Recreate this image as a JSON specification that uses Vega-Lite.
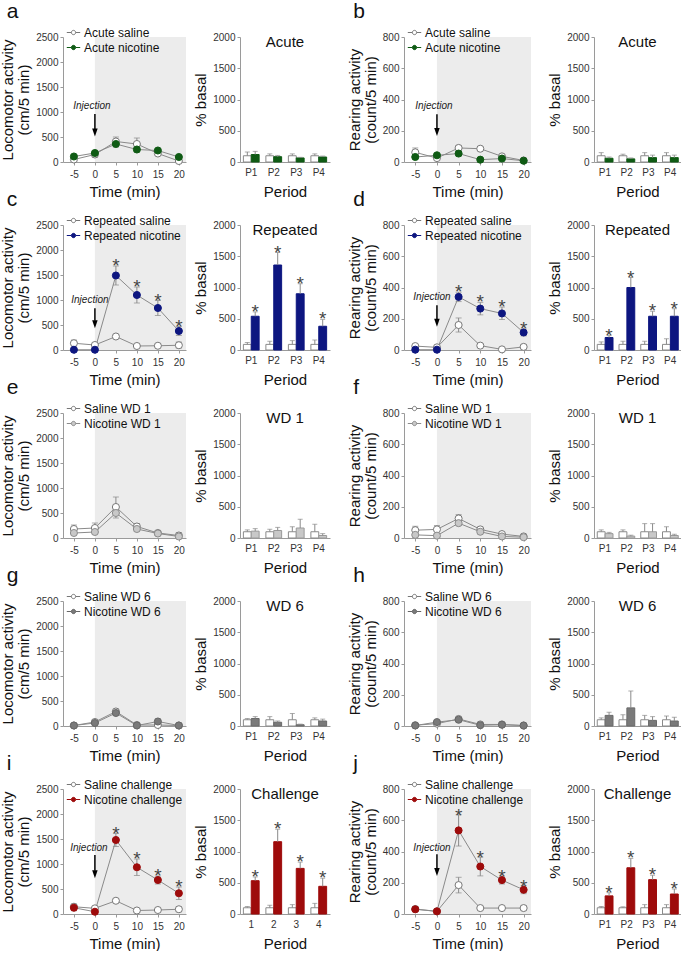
{
"$schema": "https://vega.github.io/schema/vega-lite/v6.json",
"padding": {"left": 0, "top": 1, "right": 0, "bottom": 0},
"config": {
 "font": "Liberation Sans",
 "view": {"stroke": null},
 "axis": {"grid": false, "labelOverlap": false, "domainColor": "#9a9a9a", "tickColor": "#9a9a9a", "tickSize": 3, "labelFontSize": 10, "labelColor": "#333333", "titleFontSize": 15, "titleFontWeight": "normal", "titleColor": "#111111", "labelFont": "Liberation Sans", "titleFont": "Liberation Sans", "zindex": 1},
 "legend": {"labelFontSize": 12, "labelFont": "Liberation Sans", "labelColor": "#111111", "symbolSize": 180, "symbolStrokeWidth": 1, "symbolType": "M-1,0H-0.32M0.32,0H1M-0.32,0A0.32,0.32 0 1,1 0.32,0A0.32,0.32 0 1,1 -0.32,0Z", "rowPadding": 1, "labelOffset": 3, "padding": 0},
 "title": {"font": "Liberation Sans", "fontWeight": "normal", "color": "#111111"}
},
"datasets": {
"L": [
{"p":"a","g":"Acute saline","t":-5,"v":50,"lo":20,"hi":90,"s":""},
{"p":"a","g":"Acute saline","t":0,"v":150,"lo":90,"hi":210,"s":""},
{"p":"a","g":"Acute saline","t":5,"v":410,"lo":330,"hi":500,"s":""},
{"p":"a","g":"Acute saline","t":10,"v":360,"lo":250,"hi":480,"s":""},
{"p":"a","g":"Acute saline","t":15,"v":170,"lo":140,"hi":200,"s":""},
{"p":"a","g":"Acute saline","t":20,"v":20,"lo":0,"hi":40,"s":""},
{"p":"a","g":"Acute nicotine","t":-5,"v":110,"lo":80,"hi":140,"s":""},
{"p":"a","g":"Acute nicotine","t":0,"v":180,"lo":140,"hi":220,"s":""},
{"p":"a","g":"Acute nicotine","t":5,"v":360,"lo":300,"hi":420,"s":""},
{"p":"a","g":"Acute nicotine","t":10,"v":250,"lo":200,"hi":300,"s":""},
{"p":"a","g":"Acute nicotine","t":15,"v":230,"lo":200,"hi":260,"s":""},
{"p":"a","g":"Acute nicotine","t":20,"v":100,"lo":80,"hi":120,"s":""},
{"p":"b","g":"Acute saline","t":-5,"v":62,"lo":35,"hi":90,"s":""},
{"p":"b","g":"Acute saline","t":0,"v":25,"lo":15,"hi":35,"s":""},
{"p":"b","g":"Acute saline","t":5,"v":90,"lo":75,"hi":105,"s":""},
{"p":"b","g":"Acute saline","t":10,"v":85,"lo":75,"hi":95,"s":""},
{"p":"b","g":"Acute saline","t":15,"v":36,"lo":28,"hi":44,"s":""},
{"p":"b","g":"Acute saline","t":20,"v":10,"lo":2,"hi":18,"s":""},
{"p":"b","g":"Acute nicotine","t":-5,"v":32,"lo":22,"hi":42,"s":""},
{"p":"b","g":"Acute nicotine","t":0,"v":43,"lo":33,"hi":53,"s":""},
{"p":"b","g":"Acute nicotine","t":5,"v":54,"lo":40,"hi":68,"s":""},
{"p":"b","g":"Acute nicotine","t":10,"v":15,"lo":8,"hi":22,"s":""},
{"p":"b","g":"Acute nicotine","t":15,"v":22,"lo":15,"hi":29,"s":""},
{"p":"b","g":"Acute nicotine","t":20,"v":8,"lo":3,"hi":13,"s":""},
{"p":"c","g":"Repeated saline","t":-5,"v":135,"lo":80,"hi":200,"s":""},
{"p":"c","g":"Repeated saline","t":0,"v":100,"lo":60,"hi":140,"s":""},
{"p":"c","g":"Repeated saline","t":5,"v":270,"lo":240,"hi":300,"s":""},
{"p":"c","g":"Repeated saline","t":10,"v":80,"lo":60,"hi":100,"s":""},
{"p":"c","g":"Repeated saline","t":15,"v":85,"lo":65,"hi":105,"s":""},
{"p":"c","g":"Repeated saline","t":20,"v":95,"lo":40,"hi":160,"s":""},
{"p":"c","g":"Repeated nicotine","t":-5,"v":5,"lo":0,"hi":10,"s":""},
{"p":"c","g":"Repeated nicotine","t":0,"v":5,"lo":0,"hi":10,"s":""},
{"p":"c","g":"Repeated nicotine","t":5,"v":1490,"lo":1300,"hi":1680,"s":"*"},
{"p":"c","g":"Repeated nicotine","t":10,"v":1100,"lo":940,"hi":1260,"s":"*"},
{"p":"c","g":"Repeated nicotine","t":15,"v":840,"lo":690,"hi":990,"s":"*"},
{"p":"c","g":"Repeated nicotine","t":20,"v":380,"lo":290,"hi":470,"s":"*"},
{"p":"d","g":"Repeated saline","t":-5,"v":25,"lo":15,"hi":35,"s":""},
{"p":"d","g":"Repeated saline","t":0,"v":17,"lo":10,"hi":24,"s":""},
{"p":"d","g":"Repeated saline","t":5,"v":160,"lo":115,"hi":205,"s":""},
{"p":"d","g":"Repeated saline","t":10,"v":28,"lo":20,"hi":36,"s":""},
{"p":"d","g":"Repeated saline","t":15,"v":4,"lo":0,"hi":10,"s":""},
{"p":"d","g":"Repeated saline","t":20,"v":20,"lo":5,"hi":35,"s":""},
{"p":"d","g":"Repeated nicotine","t":-5,"v":2,"lo":0,"hi":5,"s":""},
{"p":"d","g":"Repeated nicotine","t":0,"v":2,"lo":0,"hi":5,"s":""},
{"p":"d","g":"Repeated nicotine","t":5,"v":340,"lo":310,"hi":370,"s":"*"},
{"p":"d","g":"Repeated nicotine","t":10,"v":265,"lo":225,"hi":305,"s":"*"},
{"p":"d","g":"Repeated nicotine","t":15,"v":234,"lo":195,"hi":275,"s":"*"},
{"p":"d","g":"Repeated nicotine","t":20,"v":112,"lo":90,"hi":135,"s":"*"},
{"p":"e","g":"Saline WD 1","t":-5,"v":180,"lo":100,"hi":260,"s":""},
{"p":"e","g":"Saline WD 1","t":0,"v":200,"lo":120,"hi":300,"s":""},
{"p":"e","g":"Saline WD 1","t":5,"v":620,"lo":500,"hi":820,"s":""},
{"p":"e","g":"Saline WD 1","t":10,"v":230,"lo":170,"hi":290,"s":""},
{"p":"e","g":"Saline WD 1","t":15,"v":100,"lo":60,"hi":140,"s":""},
{"p":"e","g":"Saline WD 1","t":20,"v":50,"lo":10,"hi":110,"s":""},
{"p":"e","g":"Nicotine WD 1","t":-5,"v":100,"lo":60,"hi":140,"s":""},
{"p":"e","g":"Nicotine WD 1","t":0,"v":120,"lo":80,"hi":160,"s":""},
{"p":"e","g":"Nicotine WD 1","t":5,"v":500,"lo":400,"hi":600,"s":""},
{"p":"e","g":"Nicotine WD 1","t":10,"v":180,"lo":130,"hi":230,"s":""},
{"p":"e","g":"Nicotine WD 1","t":15,"v":90,"lo":60,"hi":120,"s":""},
{"p":"e","g":"Nicotine WD 1","t":20,"v":30,"lo":10,"hi":60,"s":""},
{"p":"f","g":"Saline WD 1","t":-5,"v":50,"lo":25,"hi":75,"s":""},
{"p":"f","g":"Saline WD 1","t":0,"v":55,"lo":30,"hi":80,"s":""},
{"p":"f","g":"Saline WD 1","t":5,"v":125,"lo":100,"hi":150,"s":""},
{"p":"f","g":"Saline WD 1","t":10,"v":55,"lo":40,"hi":70,"s":""},
{"p":"f","g":"Saline WD 1","t":15,"v":25,"lo":15,"hi":35,"s":""},
{"p":"f","g":"Saline WD 1","t":20,"v":10,"lo":3,"hi":17,"s":""},
{"p":"f","g":"Nicotine WD 1","t":-5,"v":20,"lo":8,"hi":32,"s":""},
{"p":"f","g":"Nicotine WD 1","t":0,"v":15,"lo":5,"hi":25,"s":""},
{"p":"f","g":"Nicotine WD 1","t":5,"v":95,"lo":80,"hi":110,"s":""},
{"p":"f","g":"Nicotine WD 1","t":10,"v":40,"lo":28,"hi":52,"s":""},
{"p":"f","g":"Nicotine WD 1","t":15,"v":10,"lo":4,"hi":16,"s":""},
{"p":"f","g":"Nicotine WD 1","t":20,"v":5,"lo":0,"hi":10,"s":""},
{"p":"g","g":"Saline WD 6","t":-5,"v":10,"lo":0,"hi":30,"s":""},
{"p":"g","g":"Saline WD 6","t":0,"v":80,"lo":40,"hi":120,"s":""},
{"p":"g","g":"Saline WD 6","t":5,"v":290,"lo":240,"hi":340,"s":""},
{"p":"g","g":"Saline WD 6","t":10,"v":20,"lo":5,"hi":40,"s":""},
{"p":"g","g":"Saline WD 6","t":15,"v":20,"lo":5,"hi":40,"s":""},
{"p":"g","g":"Saline WD 6","t":20,"v":10,"lo":0,"hi":25,"s":""},
{"p":"g","g":"Nicotine WD 6","t":-5,"v":10,"lo":0,"hi":25,"s":""},
{"p":"g","g":"Nicotine WD 6","t":0,"v":60,"lo":30,"hi":90,"s":""},
{"p":"g","g":"Nicotine WD 6","t":5,"v":260,"lo":220,"hi":300,"s":""},
{"p":"g","g":"Nicotine WD 6","t":10,"v":10,"lo":0,"hi":25,"s":""},
{"p":"g","g":"Nicotine WD 6","t":15,"v":90,"lo":40,"hi":140,"s":""},
{"p":"g","g":"Nicotine WD 6","t":20,"v":10,"lo":0,"hi":25,"s":""},
{"p":"h","g":"Saline WD 6","t":-5,"v":5,"lo":0,"hi":10,"s":""},
{"p":"h","g":"Saline WD 6","t":0,"v":15,"lo":5,"hi":25,"s":""},
{"p":"h","g":"Saline WD 6","t":5,"v":45,"lo":35,"hi":55,"s":""},
{"p":"h","g":"Saline WD 6","t":10,"v":10,"lo":4,"hi":16,"s":""},
{"p":"h","g":"Saline WD 6","t":15,"v":10,"lo":4,"hi":16,"s":""},
{"p":"h","g":"Saline WD 6","t":20,"v":3,"lo":0,"hi":8,"s":""},
{"p":"h","g":"Nicotine WD 6","t":-5,"v":3,"lo":0,"hi":8,"s":""},
{"p":"h","g":"Nicotine WD 6","t":0,"v":25,"lo":15,"hi":35,"s":""},
{"p":"h","g":"Nicotine WD 6","t":5,"v":40,"lo":30,"hi":50,"s":""},
{"p":"h","g":"Nicotine WD 6","t":10,"v":5,"lo":0,"hi":10,"s":""},
{"p":"h","g":"Nicotine WD 6","t":15,"v":8,"lo":2,"hi":14,"s":""},
{"p":"h","g":"Nicotine WD 6","t":20,"v":3,"lo":0,"hi":8,"s":""},
{"p":"i","g":"Saline challenge","t":-5,"v":145,"lo":90,"hi":200,"s":""},
{"p":"i","g":"Saline challenge","t":0,"v":113,"lo":75,"hi":150,"s":""},
{"p":"i","g":"Saline challenge","t":5,"v":265,"lo":235,"hi":295,"s":""},
{"p":"i","g":"Saline challenge","t":10,"v":70,"lo":55,"hi":85,"s":""},
{"p":"i","g":"Saline challenge","t":15,"v":80,"lo":65,"hi":95,"s":""},
{"p":"i","g":"Saline challenge","t":20,"v":95,"lo":45,"hi":145,"s":""},
{"p":"i","g":"Nicotine challenge","t":-5,"v":125,"lo":65,"hi":185,"s":""},
{"p":"i","g":"Nicotine challenge","t":0,"v":45,"lo":30,"hi":60,"s":""},
{"p":"i","g":"Nicotine challenge","t":5,"v":1480,"lo":1350,"hi":1610,"s":"*"},
{"p":"i","g":"Nicotine challenge","t":10,"v":935,"lo":770,"hi":1100,"s":"*"},
{"p":"i","g":"Nicotine challenge","t":15,"v":680,"lo":600,"hi":760,"s":"*"},
{"p":"i","g":"Nicotine challenge","t":20,"v":415,"lo":290,"hi":540,"s":"*"},
{"p":"j","g":"Saline challenge","t":-5,"v":32,"lo":17,"hi":47,"s":""},
{"p":"j","g":"Saline challenge","t":0,"v":17,"lo":10,"hi":24,"s":""},
{"p":"j","g":"Saline challenge","t":5,"v":185,"lo":135,"hi":235,"s":""},
{"p":"j","g":"Saline challenge","t":10,"v":38,"lo":30,"hi":46,"s":""},
{"p":"j","g":"Saline challenge","t":15,"v":38,"lo":26,"hi":50,"s":""},
{"p":"j","g":"Saline challenge","t":20,"v":38,"lo":23,"hi":53,"s":""},
{"p":"j","g":"Nicotine challenge","t":-5,"v":30,"lo":15,"hi":45,"s":""},
{"p":"j","g":"Nicotine challenge","t":0,"v":17,"lo":10,"hi":24,"s":""},
{"p":"j","g":"Nicotine challenge","t":5,"v":535,"lo":435,"hi":635,"s":"*"},
{"p":"j","g":"Nicotine challenge","t":10,"v":304,"lo":244,"hi":364,"s":"*"},
{"p":"j","g":"Nicotine challenge","t":15,"v":217,"lo":192,"hi":242,"s":"*"},
{"p":"j","g":"Nicotine challenge","t":20,"v":155,"lo":130,"hi":180,"s":"*"}
],
"B": [
{"p":"a","per":"P1","g":"s","v":100,"hi":160,"s":""},
{"p":"a","per":"P2","g":"s","v":100,"hi":130,"s":""},
{"p":"a","per":"P3","g":"s","v":100,"hi":130,"s":""},
{"p":"a","per":"P4","g":"s","v":100,"hi":130,"s":""},
{"p":"a","per":"P1","g":"n","v":120,"hi":170,"s":""},
{"p":"a","per":"P2","g":"n","v":85,"hi":105,"s":""},
{"p":"a","per":"P3","g":"n","v":65,"hi":75,"s":""},
{"p":"a","per":"P4","g":"n","v":80,"hi":95,"s":""},
{"p":"b","per":"P1","g":"s","v":100,"hi":150,"s":""},
{"p":"b","per":"P2","g":"s","v":100,"hi":125,"s":""},
{"p":"b","per":"P3","g":"s","v":100,"hi":150,"s":""},
{"p":"b","per":"P4","g":"s","v":100,"hi":150,"s":""},
{"p":"b","per":"P1","g":"n","v":60,"hi":80,"s":""},
{"p":"b","per":"P2","g":"n","v":50,"hi":65,"s":""},
{"p":"b","per":"P3","g":"n","v":70,"hi":110,"s":""},
{"p":"b","per":"P4","g":"n","v":70,"hi":110,"s":""},
{"p":"c","per":"P1","g":"s","v":90,"hi":120,"s":""},
{"p":"c","per":"P2","g":"s","v":90,"hi":140,"s":""},
{"p":"c","per":"P3","g":"s","v":90,"hi":150,"s":""},
{"p":"c","per":"P4","g":"s","v":90,"hi":160,"s":""},
{"p":"c","per":"P1","g":"n","v":540,"hi":610,"s":"*"},
{"p":"c","per":"P2","g":"n","v":1360,"hi":1560,"s":"*"},
{"p":"c","per":"P3","g":"n","v":900,"hi":1060,"s":"*"},
{"p":"c","per":"P4","g":"n","v":380,"hi":490,"s":"*"},
{"p":"d","per":"P1","g":"s","v":90,"hi":130,"s":""},
{"p":"d","per":"P2","g":"s","v":90,"hi":140,"s":""},
{"p":"d","per":"P3","g":"s","v":90,"hi":140,"s":""},
{"p":"d","per":"P4","g":"s","v":90,"hi":180,"s":""},
{"p":"d","per":"P1","g":"n","v":200,"hi":230,"s":"*"},
{"p":"d","per":"P2","g":"n","v":1000,"hi":1160,"s":"*"},
{"p":"d","per":"P3","g":"n","v":540,"hi":620,"s":"*"},
{"p":"d","per":"P4","g":"n","v":540,"hi":660,"s":"*"},
{"p":"e","per":"P1","g":"s","v":100,"hi":130,"s":""},
{"p":"e","per":"P2","g":"s","v":100,"hi":140,"s":""},
{"p":"e","per":"P3","g":"s","v":100,"hi":180,"s":""},
{"p":"e","per":"P4","g":"s","v":100,"hi":220,"s":""},
{"p":"e","per":"P1","g":"n","v":110,"hi":150,"s":""},
{"p":"e","per":"P2","g":"n","v":120,"hi":170,"s":""},
{"p":"e","per":"P3","g":"n","v":160,"hi":300,"s":""},
{"p":"e","per":"P4","g":"n","v":40,"hi":70,"s":""},
{"p":"f","per":"P1","g":"s","v":100,"hi":130,"s":""},
{"p":"f","per":"P2","g":"s","v":100,"hi":130,"s":""},
{"p":"f","per":"P3","g":"s","v":100,"hi":230,"s":""},
{"p":"f","per":"P4","g":"s","v":100,"hi":180,"s":""},
{"p":"f","per":"P1","g":"n","v":70,"hi":90,"s":""},
{"p":"f","per":"P2","g":"n","v":30,"hi":45,"s":""},
{"p":"f","per":"P3","g":"n","v":100,"hi":230,"s":""},
{"p":"f","per":"P4","g":"n","v":40,"hi":60,"s":""},
{"p":"g","per":"P1","g":"s","v":100,"hi":120,"s":""},
{"p":"g","per":"P2","g":"s","v":100,"hi":150,"s":""},
{"p":"g","per":"P3","g":"s","v":100,"hi":200,"s":""},
{"p":"g","per":"P4","g":"s","v":100,"hi":130,"s":""},
{"p":"g","per":"P1","g":"n","v":120,"hi":150,"s":""},
{"p":"g","per":"P2","g":"n","v":60,"hi":80,"s":""},
{"p":"g","per":"P3","g":"n","v":20,"hi":30,"s":""},
{"p":"g","per":"P4","g":"n","v":80,"hi":110,"s":""},
{"p":"h","per":"P1","g":"s","v":100,"hi":130,"s":""},
{"p":"h","per":"P2","g":"s","v":100,"hi":180,"s":""},
{"p":"h","per":"P3","g":"s","v":100,"hi":170,"s":""},
{"p":"h","per":"P4","g":"s","v":100,"hi":160,"s":""},
{"p":"h","per":"P1","g":"n","v":170,"hi":220,"s":""},
{"p":"h","per":"P2","g":"n","v":290,"hi":560,"s":""},
{"p":"h","per":"P3","g":"n","v":90,"hi":150,"s":""},
{"p":"h","per":"P4","g":"n","v":80,"hi":140,"s":""},
{"p":"i","per":"1","g":"s","v":100,"hi":120,"s":""},
{"p":"i","per":"2","g":"s","v":100,"hi":140,"s":""},
{"p":"i","per":"3","g":"s","v":100,"hi":150,"s":""},
{"p":"i","per":"4","g":"s","v":100,"hi":170,"s":""},
{"p":"i","per":"1","g":"n","v":533,"hi":593,"s":"*"},
{"p":"i","per":"2","g":"n","v":1157,"hi":1357,"s":"*"},
{"p":"i","per":"3","g":"n","v":730,"hi":830,"s":"*"},
{"p":"i","per":"4","g":"n","v":443,"hi":573,"s":"*"},
{"p":"j","per":"P1","g":"s","v":100,"hi":120,"s":""},
{"p":"j","per":"P2","g":"s","v":100,"hi":115,"s":""},
{"p":"j","per":"P3","g":"s","v":100,"hi":150,"s":""},
{"p":"j","per":"P4","g":"s","v":100,"hi":150,"s":""},
{"p":"j","per":"P1","g":"n","v":290,"hi":340,"s":"*"},
{"p":"j","per":"P2","g":"n","v":740,"hi":890,"s":"*"},
{"p":"j","per":"P3","g":"n","v":550,"hi":620,"s":"*"},
{"p":"j","per":"P4","g":"n","v":320,"hi":400,"s":"*"}
]
},
"spacing": -10,
"resolve": {"scale": {"fill": "independent", "stroke": "independent"}, "legend": {"fill": "independent", "stroke": "independent"}},
"vconcat": [
{"spacing": 17, "resolve": {"scale": {"fill": "independent", "stroke": "independent"}, "legend": {"fill": "independent", "stroke": "independent"}}, "hconcat": [
 {"spacing": 7, "resolve": {"scale": {"fill": "independent", "stroke": "independent"}, "legend": {"fill": "independent", "stroke": "independent"}}, "hconcat": [
  {"width":123,"height":125,
   "title":{"text":"a","anchor":"start","frame":"bounds","fontSize":21,"baseline":"bottom","offset":-18,"dx":6},
   "layer":[
    {"data":{"values":[{}]},"mark":{"type":"rect","color":"#ececec"},"encoding":{"x":{"datum":0,"type":"quantitative","scale":{"domain":[-7.6,21.7],"nice":false,"zero":false},"title":"Time (min)","axis":{"values":[-5,0,5,10,15,20],"labelExpr":"''+datum.value","titlePadding":5,"labelPadding":4}},"x2":{"datum":21.7},"y":{"datum":0,"type":"quantitative","scale":{"domain":[0,2500],"nice":false},"title":["Locomotor activity","(cm/5 min)"],"axis":{"values":[0,500,1000,1500,2000,2500],"format":"d","titleLineHeight":16,"titlePadding":4,"labelPadding":2}},"y2":{"datum":2500}}},
    {"data":{"values":[{}]},"mark":{"type":"rule","color":"#000000","strokeWidth":1.5},"encoding":{"x":{"datum":0,"type":"quantitative","scale":{"domain":[-7.6,21.7],"nice":false,"zero":false},"title":"Time (min)","axis":{"values":[-5,0,5,10,15,20],"labelExpr":"''+datum.value","titlePadding":5,"labelPadding":4}},"y":{"datum":960,"type":"quantitative","scale":{"domain":[0,2500],"nice":false},"title":["Locomotor activity","(cm/5 min)"],"axis":{"values":[0,500,1000,1500,2000,2500],"format":"d","titleLineHeight":16,"titlePadding":4,"labelPadding":2}},"y2":{"datum":660}}},
    {"data":{"values":[{}]},"mark":{"type":"point","shape":"M0,0L-0.55,-1.6L0.55,-1.6Z","filled":true,"color":"#000000","opacity":1,"size":100},"encoding":{"x":{"datum":0,"type":"quantitative","scale":{"domain":[-7.6,21.7],"nice":false,"zero":false},"title":"Time (min)","axis":{"values":[-5,0,5,10,15,20],"labelExpr":"''+datum.value","titlePadding":5,"labelPadding":4}},"y":{"datum":510,"type":"quantitative","scale":{"domain":[0,2500],"nice":false},"title":["Locomotor activity","(cm/5 min)"],"axis":{"values":[0,500,1000,1500,2000,2500],"format":"d","titleLineHeight":16,"titlePadding":4,"labelPadding":2}}}},
    {"data":{"values":[{}]},"mark":{"type":"text","text":"Injection","fontStyle":"italic","fontSize":10,"color":"#222222","dx":-3},"encoding":{"x":{"datum":0,"type":"quantitative","scale":{"domain":[-7.6,21.7],"nice":false,"zero":false},"title":"Time (min)","axis":{"values":[-5,0,5,10,15,20],"labelExpr":"''+datum.value","titlePadding":5,"labelPadding":4}},"y":{"datum":1120,"type":"quantitative","scale":{"domain":[0,2500],"nice":false},"title":["Locomotor activity","(cm/5 min)"],"axis":{"values":[0,500,1000,1500,2000,2500],"format":"d","titleLineHeight":16,"titlePadding":4,"labelPadding":2}}}},
    {"data":{"name":"L"},"transform":[{"filter":"datum.p=='a'"}],"mark":{"type":"rule","color":"#8a8a8a"},"encoding":{"x":{"field":"t","type":"quantitative","scale":{"domain":[-7.6,21.7],"nice":false,"zero":false},"title":"Time (min)","axis":{"values":[-5,0,5,10,15,20],"labelExpr":"''+datum.value","titlePadding":5,"labelPadding":4}},"y":{"field":"lo","type":"quantitative","scale":{"domain":[0,2500],"nice":false},"title":["Locomotor activity","(cm/5 min)"],"axis":{"values":[0,500,1000,1500,2000,2500],"format":"d","titleLineHeight":16,"titlePadding":4,"labelPadding":2}},"y2":{"field":"hi"}}},
    {"data":{"name":"L"},"transform":[{"filter":"datum.p=='a'"}],"mark":{"type":"tick","orient":"horizontal","size":6,"thickness":1,"color":"#8a8a8a"},"encoding":{"x":{"field":"t","type":"quantitative","scale":{"domain":[-7.6,21.7],"nice":false,"zero":false},"title":"Time (min)","axis":{"values":[-5,0,5,10,15,20],"labelExpr":"''+datum.value","titlePadding":5,"labelPadding":4}},"y":{"field":"hi","type":"quantitative","scale":{"domain":[0,2500],"nice":false},"title":["Locomotor activity","(cm/5 min)"],"axis":{"values":[0,500,1000,1500,2000,2500],"format":"d","titleLineHeight":16,"titlePadding":4,"labelPadding":2}}}},
    {"data":{"name":"L"},"transform":[{"filter":"datum.p=='a'"}],"mark":{"type":"tick","orient":"horizontal","size":6,"thickness":1,"color":"#8a8a8a"},"encoding":{"x":{"field":"t","type":"quantitative","scale":{"domain":[-7.6,21.7],"nice":false,"zero":false},"title":"Time (min)","axis":{"values":[-5,0,5,10,15,20],"labelExpr":"''+datum.value","titlePadding":5,"labelPadding":4}},"y":{"field":"lo","type":"quantitative","scale":{"domain":[0,2500],"nice":false},"title":["Locomotor activity","(cm/5 min)"],"axis":{"values":[0,500,1000,1500,2000,2500],"format":"d","titleLineHeight":16,"titlePadding":4,"labelPadding":2}}}},
    {"data":{"name":"L"},"transform":[{"filter":"datum.p=='a'"}],"mark":{"type":"line","color":"#8a8a8a","strokeWidth":1},"encoding":{"x":{"field":"t","type":"quantitative","scale":{"domain":[-7.6,21.7],"nice":false,"zero":false},"title":"Time (min)","axis":{"values":[-5,0,5,10,15,20],"labelExpr":"''+datum.value","titlePadding":5,"labelPadding":4}},"y":{"field":"v","type":"quantitative","scale":{"domain":[0,2500],"nice":false},"title":["Locomotor activity","(cm/5 min)"],"axis":{"values":[0,500,1000,1500,2000,2500],"format":"d","titleLineHeight":16,"titlePadding":4,"labelPadding":2}},"detail":{"field":"g","type":"nominal"}}},
    {"data":{"name":"L"},"transform":[{"filter":"datum.p=='a'"}],"mark":{"type":"point","filled":true,"opacity":1,"size":50,"strokeWidth":1},"encoding":{"x":{"field":"t","type":"quantitative","scale":{"domain":[-7.6,21.7],"nice":false,"zero":false},"title":"Time (min)","axis":{"values":[-5,0,5,10,15,20],"labelExpr":"''+datum.value","titlePadding":5,"labelPadding":4}},"y":{"field":"v","type":"quantitative","scale":{"domain":[0,2500],"nice":false},"title":["Locomotor activity","(cm/5 min)"],"axis":{"values":[0,500,1000,1500,2000,2500],"format":"d","titleLineHeight":16,"titlePadding":4,"labelPadding":2}},
      "fill":{"field":"g","type":"nominal","scale":{"domain":["Acute saline","Acute nicotine"],"range":["#ffffff","#0f5b14"]},"legend":{"orient":"none","legendX":3,"legendY":-12,"title":null}},
      "stroke":{"field":"g","type":"nominal","scale":{"domain":["Acute saline","Acute nicotine"],"range":["#777777","#0f5b14"]},"legend":{"orient":"none","legendX":3,"legendY":-12,"title":null}}}}
   ]},
  {"width":90,"height":125,
   "title":{"text":"Acute","fontSize":15,"offset":-18,"baseline":"top","anchor":"middle","frame":"group"},
   "data":{"name":"B"},"transform":[{"filter":"datum.p=='a'"}],
   "encoding":{"x":{"field":"per","type":"nominal","scale":{"paddingInner":0.3,"paddingOuter":0.15},"title":"Period","axis":{"labelAngle":0,"ticks":false,"labelPadding":5,"titlePadding":7}},"xOffset":{"field":"g","type":"nominal","scale":{"domain":["s","n"]}}},
   "layer":[
    {"mark":{"type":"bar","strokeWidth":1},"encoding":{"y":{"field":"v","type":"quantitative","scale":{"domain":[0,2000],"nice":false},"title":"% basal","axis":{"values":[0,500,1000,1500,2000],"format":"d","titlePadding":4,"labelPadding":2}},"fill":{"field":"g","type":"nominal","scale":{"domain":["s","n"],"range":["#ffffff","#0f5b14"]},"legend":null},"stroke":{"field":"g","type":"nominal","scale":{"domain":["s","n"],"range":["#8a8a8a","#0f5b14"]},"legend":null}}},
    {"mark":{"type":"rule","color":"#8a8a8a"},"encoding":{"y":{"field":"v","type":"quantitative","scale":{"domain":[0,2000],"nice":false},"title":"% basal","axis":{"values":[0,500,1000,1500,2000],"format":"d","titlePadding":4,"labelPadding":2}},"y2":{"field":"hi"}}},
    {"mark":{"type":"tick","orient":"horizontal","size":5,"thickness":1,"color":"#8a8a8a"},"encoding":{"y":{"field":"hi","type":"quantitative","scale":{"domain":[0,2000],"nice":false},"title":"% basal","axis":{"values":[0,500,1000,1500,2000],"format":"d","titlePadding":4,"labelPadding":2}}}}
   ]}
 ]},
 {"spacing": 16, "resolve": {"scale": {"fill": "independent", "stroke": "independent"}, "legend": {"fill": "independent", "stroke": "independent"}}, "hconcat": [
  {"width":127,"height":125,
   "title":{"text":"b","anchor":"start","frame":"bounds","fontSize":21,"baseline":"bottom","offset":-18,"dx":6},
   "layer":[
    {"data":{"values":[{}]},"mark":{"type":"rect","color":"#ececec"},"encoding":{"x":{"datum":0,"type":"quantitative","scale":{"domain":[-7.6,21.7],"nice":false,"zero":false},"title":"Time (min)","axis":{"values":[-5,0,5,10,15,20],"labelExpr":"''+datum.value","titlePadding":5,"labelPadding":4}},"x2":{"datum":21.7},"y":{"datum":0,"type":"quantitative","scale":{"domain":[0,800],"nice":false},"title":["Rearing activity","(count/5 min)"],"axis":{"values":[0,200,400,600,800],"format":"d","titleLineHeight":16,"titlePadding":4,"labelPadding":2}},"y2":{"datum":800}}},
    {"data":{"values":[{}]},"mark":{"type":"rule","color":"#000000","strokeWidth":1.5},"encoding":{"x":{"datum":0,"type":"quantitative","scale":{"domain":[-7.6,21.7],"nice":false,"zero":false},"title":"Time (min)","axis":{"values":[-5,0,5,10,15,20],"labelExpr":"''+datum.value","titlePadding":5,"labelPadding":4}},"y":{"datum":305,"type":"quantitative","scale":{"domain":[0,800],"nice":false},"title":["Rearing activity","(count/5 min)"],"axis":{"values":[0,200,400,600,800],"format":"d","titleLineHeight":16,"titlePadding":4,"labelPadding":2}},"y2":{"datum":212}}},
    {"data":{"values":[{}]},"mark":{"type":"point","shape":"M0,0L-0.55,-1.6L0.55,-1.6Z","filled":true,"color":"#000000","opacity":1,"size":100},"encoding":{"x":{"datum":0,"type":"quantitative","scale":{"domain":[-7.6,21.7],"nice":false,"zero":false},"title":"Time (min)","axis":{"values":[-5,0,5,10,15,20],"labelExpr":"''+datum.value","titlePadding":5,"labelPadding":4}},"y":{"datum":167,"type":"quantitative","scale":{"domain":[0,800],"nice":false},"title":["Rearing activity","(count/5 min)"],"axis":{"values":[0,200,400,600,800],"format":"d","titleLineHeight":16,"titlePadding":4,"labelPadding":2}}}},
    {"data":{"values":[{}]},"mark":{"type":"text","text":"Injection","fontStyle":"italic","fontSize":10,"color":"#222222","dx":-3},"encoding":{"x":{"datum":0,"type":"quantitative","scale":{"domain":[-7.6,21.7],"nice":false,"zero":false},"title":"Time (min)","axis":{"values":[-5,0,5,10,15,20],"labelExpr":"''+datum.value","titlePadding":5,"labelPadding":4}},"y":{"datum":360,"type":"quantitative","scale":{"domain":[0,800],"nice":false},"title":["Rearing activity","(count/5 min)"],"axis":{"values":[0,200,400,600,800],"format":"d","titleLineHeight":16,"titlePadding":4,"labelPadding":2}}}},
    {"data":{"name":"L"},"transform":[{"filter":"datum.p=='b'"}],"mark":{"type":"rule","color":"#8a8a8a"},"encoding":{"x":{"field":"t","type":"quantitative","scale":{"domain":[-7.6,21.7],"nice":false,"zero":false},"title":"Time (min)","axis":{"values":[-5,0,5,10,15,20],"labelExpr":"''+datum.value","titlePadding":5,"labelPadding":4}},"y":{"field":"lo","type":"quantitative","scale":{"domain":[0,800],"nice":false},"title":["Rearing activity","(count/5 min)"],"axis":{"values":[0,200,400,600,800],"format":"d","titleLineHeight":16,"titlePadding":4,"labelPadding":2}},"y2":{"field":"hi"}}},
    {"data":{"name":"L"},"transform":[{"filter":"datum.p=='b'"}],"mark":{"type":"tick","orient":"horizontal","size":6,"thickness":1,"color":"#8a8a8a"},"encoding":{"x":{"field":"t","type":"quantitative","scale":{"domain":[-7.6,21.7],"nice":false,"zero":false},"title":"Time (min)","axis":{"values":[-5,0,5,10,15,20],"labelExpr":"''+datum.value","titlePadding":5,"labelPadding":4}},"y":{"field":"hi","type":"quantitative","scale":{"domain":[0,800],"nice":false},"title":["Rearing activity","(count/5 min)"],"axis":{"values":[0,200,400,600,800],"format":"d","titleLineHeight":16,"titlePadding":4,"labelPadding":2}}}},
    {"data":{"name":"L"},"transform":[{"filter":"datum.p=='b'"}],"mark":{"type":"tick","orient":"horizontal","size":6,"thickness":1,"color":"#8a8a8a"},"encoding":{"x":{"field":"t","type":"quantitative","scale":{"domain":[-7.6,21.7],"nice":false,"zero":false},"title":"Time (min)","axis":{"values":[-5,0,5,10,15,20],"labelExpr":"''+datum.value","titlePadding":5,"labelPadding":4}},"y":{"field":"lo","type":"quantitative","scale":{"domain":[0,800],"nice":false},"title":["Rearing activity","(count/5 min)"],"axis":{"values":[0,200,400,600,800],"format":"d","titleLineHeight":16,"titlePadding":4,"labelPadding":2}}}},
    {"data":{"name":"L"},"transform":[{"filter":"datum.p=='b'"}],"mark":{"type":"line","color":"#8a8a8a","strokeWidth":1},"encoding":{"x":{"field":"t","type":"quantitative","scale":{"domain":[-7.6,21.7],"nice":false,"zero":false},"title":"Time (min)","axis":{"values":[-5,0,5,10,15,20],"labelExpr":"''+datum.value","titlePadding":5,"labelPadding":4}},"y":{"field":"v","type":"quantitative","scale":{"domain":[0,800],"nice":false},"title":["Rearing activity","(count/5 min)"],"axis":{"values":[0,200,400,600,800],"format":"d","titleLineHeight":16,"titlePadding":4,"labelPadding":2}},"detail":{"field":"g","type":"nominal"}}},
    {"data":{"name":"L"},"transform":[{"filter":"datum.p=='b'"}],"mark":{"type":"point","filled":true,"opacity":1,"size":50,"strokeWidth":1},"encoding":{"x":{"field":"t","type":"quantitative","scale":{"domain":[-7.6,21.7],"nice":false,"zero":false},"title":"Time (min)","axis":{"values":[-5,0,5,10,15,20],"labelExpr":"''+datum.value","titlePadding":5,"labelPadding":4}},"y":{"field":"v","type":"quantitative","scale":{"domain":[0,800],"nice":false},"title":["Rearing activity","(count/5 min)"],"axis":{"values":[0,200,400,600,800],"format":"d","titleLineHeight":16,"titlePadding":4,"labelPadding":2}},
      "fill":{"field":"g","type":"nominal","scale":{"domain":["Acute saline","Acute nicotine"],"range":["#ffffff","#0f5b14"]},"legend":{"orient":"none","legendX":3,"legendY":-12,"title":null}},
      "stroke":{"field":"g","type":"nominal","scale":{"domain":["Acute saline","Acute nicotine"],"range":["#777777","#0f5b14"]},"legend":{"orient":"none","legendX":3,"legendY":-12,"title":null}}}}
   ]},
  {"width":87,"height":125,
   "title":{"text":"Acute","fontSize":15,"offset":-18,"baseline":"top","anchor":"middle","frame":"group"},
   "data":{"name":"B"},"transform":[{"filter":"datum.p=='b'"}],
   "encoding":{"x":{"field":"per","type":"nominal","scale":{"paddingInner":0.3,"paddingOuter":0.15},"title":"Period","axis":{"labelAngle":0,"ticks":false,"labelPadding":5,"titlePadding":7}},"xOffset":{"field":"g","type":"nominal","scale":{"domain":["s","n"]}}},
   "layer":[
    {"mark":{"type":"bar","strokeWidth":1},"encoding":{"y":{"field":"v","type":"quantitative","scale":{"domain":[0,2000],"nice":false},"title":"% basal","axis":{"values":[0,500,1000,1500,2000],"format":"d","titlePadding":4,"labelPadding":2}},"fill":{"field":"g","type":"nominal","scale":{"domain":["s","n"],"range":["#ffffff","#0f5b14"]},"legend":null},"stroke":{"field":"g","type":"nominal","scale":{"domain":["s","n"],"range":["#8a8a8a","#0f5b14"]},"legend":null}}},
    {"mark":{"type":"rule","color":"#8a8a8a"},"encoding":{"y":{"field":"v","type":"quantitative","scale":{"domain":[0,2000],"nice":false},"title":"% basal","axis":{"values":[0,500,1000,1500,2000],"format":"d","titlePadding":4,"labelPadding":2}},"y2":{"field":"hi"}}},
    {"mark":{"type":"tick","orient":"horizontal","size":5,"thickness":1,"color":"#8a8a8a"},"encoding":{"y":{"field":"hi","type":"quantitative","scale":{"domain":[0,2000],"nice":false},"title":"% basal","axis":{"values":[0,500,1000,1500,2000],"format":"d","titlePadding":4,"labelPadding":2}}}}
   ]}
 ]}
]},
{"spacing": 17, "resolve": {"scale": {"fill": "independent", "stroke": "independent"}, "legend": {"fill": "independent", "stroke": "independent"}}, "hconcat": [
 {"spacing": 7, "resolve": {"scale": {"fill": "independent", "stroke": "independent"}, "legend": {"fill": "independent", "stroke": "independent"}}, "hconcat": [
  {"width":123,"height":125,
   "title":{"text":"c","anchor":"start","frame":"bounds","fontSize":21,"baseline":"bottom","offset":-18,"dx":6},
   "layer":[
    {"data":{"values":[{}]},"mark":{"type":"rect","color":"#ececec"},"encoding":{"x":{"datum":0,"type":"quantitative","scale":{"domain":[-7.6,21.7],"nice":false,"zero":false},"title":"Time (min)","axis":{"values":[-5,0,5,10,15,20],"labelExpr":"''+datum.value","titlePadding":5,"labelPadding":4}},"x2":{"datum":21.7},"y":{"datum":0,"type":"quantitative","scale":{"domain":[0,2500],"nice":false},"title":["Locomotor activity","(cm/5 min)"],"axis":{"values":[0,500,1000,1500,2000,2500],"format":"d","titleLineHeight":16,"titlePadding":4,"labelPadding":2}},"y2":{"datum":2500}}},
    {"data":{"values":[{}]},"mark":{"type":"rule","color":"#000000","strokeWidth":1.5},"encoding":{"x":{"datum":0,"type":"quantitative","scale":{"domain":[-7.6,21.7],"nice":false,"zero":false},"title":"Time (min)","axis":{"values":[-5,0,5,10,15,20],"labelExpr":"''+datum.value","titlePadding":5,"labelPadding":4}},"y":{"datum":833,"type":"quantitative","scale":{"domain":[0,2500],"nice":false},"title":["Locomotor activity","(cm/5 min)"],"axis":{"values":[0,500,1000,1500,2000,2500],"format":"d","titleLineHeight":16,"titlePadding":4,"labelPadding":2}},"y2":{"datum":583}}},
    {"data":{"values":[{}]},"mark":{"type":"point","shape":"M0,0L-0.55,-1.6L0.55,-1.6Z","filled":true,"color":"#000000","opacity":1,"size":100},"encoding":{"x":{"datum":0,"type":"quantitative","scale":{"domain":[-7.6,21.7],"nice":false,"zero":false},"title":"Time (min)","axis":{"values":[-5,0,5,10,15,20],"labelExpr":"''+datum.value","titlePadding":5,"labelPadding":4}},"y":{"datum":433,"type":"quantitative","scale":{"domain":[0,2500],"nice":false},"title":["Locomotor activity","(cm/5 min)"],"axis":{"values":[0,500,1000,1500,2000,2500],"format":"d","titleLineHeight":16,"titlePadding":4,"labelPadding":2}}}},
    {"data":{"values":[{}]},"mark":{"type":"text","text":"Injection","fontStyle":"italic","fontSize":10,"color":"#222222","dx":-5},"encoding":{"x":{"datum":0,"type":"quantitative","scale":{"domain":[-7.6,21.7],"nice":false,"zero":false},"title":"Time (min)","axis":{"values":[-5,0,5,10,15,20],"labelExpr":"''+datum.value","titlePadding":5,"labelPadding":4}},"y":{"datum":1000,"type":"quantitative","scale":{"domain":[0,2500],"nice":false},"title":["Locomotor activity","(cm/5 min)"],"axis":{"values":[0,500,1000,1500,2000,2500],"format":"d","titleLineHeight":16,"titlePadding":4,"labelPadding":2}}}},
    {"data":{"name":"L"},"transform":[{"filter":"datum.p=='c'"}],"mark":{"type":"rule","color":"#8a8a8a"},"encoding":{"x":{"field":"t","type":"quantitative","scale":{"domain":[-7.6,21.7],"nice":false,"zero":false},"title":"Time (min)","axis":{"values":[-5,0,5,10,15,20],"labelExpr":"''+datum.value","titlePadding":5,"labelPadding":4}},"y":{"field":"lo","type":"quantitative","scale":{"domain":[0,2500],"nice":false},"title":["Locomotor activity","(cm/5 min)"],"axis":{"values":[0,500,1000,1500,2000,2500],"format":"d","titleLineHeight":16,"titlePadding":4,"labelPadding":2}},"y2":{"field":"hi"}}},
    {"data":{"name":"L"},"transform":[{"filter":"datum.p=='c'"}],"mark":{"type":"tick","orient":"horizontal","size":6,"thickness":1,"color":"#8a8a8a"},"encoding":{"x":{"field":"t","type":"quantitative","scale":{"domain":[-7.6,21.7],"nice":false,"zero":false},"title":"Time (min)","axis":{"values":[-5,0,5,10,15,20],"labelExpr":"''+datum.value","titlePadding":5,"labelPadding":4}},"y":{"field":"hi","type":"quantitative","scale":{"domain":[0,2500],"nice":false},"title":["Locomotor activity","(cm/5 min)"],"axis":{"values":[0,500,1000,1500,2000,2500],"format":"d","titleLineHeight":16,"titlePadding":4,"labelPadding":2}}}},
    {"data":{"name":"L"},"transform":[{"filter":"datum.p=='c'"}],"mark":{"type":"tick","orient":"horizontal","size":6,"thickness":1,"color":"#8a8a8a"},"encoding":{"x":{"field":"t","type":"quantitative","scale":{"domain":[-7.6,21.7],"nice":false,"zero":false},"title":"Time (min)","axis":{"values":[-5,0,5,10,15,20],"labelExpr":"''+datum.value","titlePadding":5,"labelPadding":4}},"y":{"field":"lo","type":"quantitative","scale":{"domain":[0,2500],"nice":false},"title":["Locomotor activity","(cm/5 min)"],"axis":{"values":[0,500,1000,1500,2000,2500],"format":"d","titleLineHeight":16,"titlePadding":4,"labelPadding":2}}}},
    {"data":{"name":"L"},"transform":[{"filter":"datum.p=='c'"}],"mark":{"type":"line","color":"#8a8a8a","strokeWidth":1},"encoding":{"x":{"field":"t","type":"quantitative","scale":{"domain":[-7.6,21.7],"nice":false,"zero":false},"title":"Time (min)","axis":{"values":[-5,0,5,10,15,20],"labelExpr":"''+datum.value","titlePadding":5,"labelPadding":4}},"y":{"field":"v","type":"quantitative","scale":{"domain":[0,2500],"nice":false},"title":["Locomotor activity","(cm/5 min)"],"axis":{"values":[0,500,1000,1500,2000,2500],"format":"d","titleLineHeight":16,"titlePadding":4,"labelPadding":2}},"detail":{"field":"g","type":"nominal"}}},
    {"data":{"name":"L"},"transform":[{"filter":"datum.p=='c'"}],"mark":{"type":"point","filled":true,"opacity":1,"size":50,"strokeWidth":1},"encoding":{"x":{"field":"t","type":"quantitative","scale":{"domain":[-7.6,21.7],"nice":false,"zero":false},"title":"Time (min)","axis":{"values":[-5,0,5,10,15,20],"labelExpr":"''+datum.value","titlePadding":5,"labelPadding":4}},"y":{"field":"v","type":"quantitative","scale":{"domain":[0,2500],"nice":false},"title":["Locomotor activity","(cm/5 min)"],"axis":{"values":[0,500,1000,1500,2000,2500],"format":"d","titleLineHeight":16,"titlePadding":4,"labelPadding":2}},
      "fill":{"field":"g","type":"nominal","scale":{"domain":["Repeated saline","Repeated nicotine"],"range":["#ffffff","#0d1680"]},"legend":{"orient":"none","legendX":3,"legendY":-12,"title":null}},
      "stroke":{"field":"g","type":"nominal","scale":{"domain":["Repeated saline","Repeated nicotine"],"range":["#777777","#0d1680"]},"legend":{"orient":"none","legendX":3,"legendY":-12,"title":null}}}},
    {"data":{"name":"L"},"transform":[{"filter":"datum.p=='c'"}],"mark":{"type":"text","fontSize":19,"dy":6,"baseline":"alphabetic","color":"#444444"},"encoding":{"x":{"field":"t","type":"quantitative","scale":{"domain":[-7.6,21.7],"nice":false,"zero":false},"title":"Time (min)","axis":{"values":[-5,0,5,10,15,20],"labelExpr":"''+datum.value","titlePadding":5,"labelPadding":4}},"y":{"field":"hi","type":"quantitative","scale":{"domain":[0,2500],"nice":false},"title":["Locomotor activity","(cm/5 min)"],"axis":{"values":[0,500,1000,1500,2000,2500],"format":"d","titleLineHeight":16,"titlePadding":4,"labelPadding":2}},"text":{"field":"s"}}}
   ]},
  {"width":90,"height":125,
   "title":{"text":"Repeated","fontSize":15,"offset":-18,"baseline":"top","anchor":"middle","frame":"group"},
   "data":{"name":"B"},"transform":[{"filter":"datum.p=='c'"}],
   "encoding":{"x":{"field":"per","type":"nominal","scale":{"paddingInner":0.3,"paddingOuter":0.15},"title":"Period","axis":{"labelAngle":0,"ticks":false,"labelPadding":5,"titlePadding":7}},"xOffset":{"field":"g","type":"nominal","scale":{"domain":["s","n"]}}},
   "layer":[
    {"mark":{"type":"bar","strokeWidth":1},"encoding":{"y":{"field":"v","type":"quantitative","scale":{"domain":[0,2000],"nice":false},"title":"% basal","axis":{"values":[0,500,1000,1500,2000],"format":"d","titlePadding":4,"labelPadding":2}},"fill":{"field":"g","type":"nominal","scale":{"domain":["s","n"],"range":["#ffffff","#0d1680"]},"legend":null},"stroke":{"field":"g","type":"nominal","scale":{"domain":["s","n"],"range":["#8a8a8a","#0d1680"]},"legend":null}}},
    {"mark":{"type":"rule","color":"#8a8a8a"},"encoding":{"y":{"field":"v","type":"quantitative","scale":{"domain":[0,2000],"nice":false},"title":"% basal","axis":{"values":[0,500,1000,1500,2000],"format":"d","titlePadding":4,"labelPadding":2}},"y2":{"field":"hi"}}},
    {"mark":{"type":"tick","orient":"horizontal","size":5,"thickness":1,"color":"#8a8a8a"},"encoding":{"y":{"field":"hi","type":"quantitative","scale":{"domain":[0,2000],"nice":false},"title":"% basal","axis":{"values":[0,500,1000,1500,2000],"format":"d","titlePadding":4,"labelPadding":2}}}},
    {"mark":{"type":"text","fontSize":19,"dy":6,"baseline":"alphabetic","color":"#444444"},"encoding":{"y":{"field":"hi","type":"quantitative","scale":{"domain":[0,2000],"nice":false},"title":"% basal","axis":{"values":[0,500,1000,1500,2000],"format":"d","titlePadding":4,"labelPadding":2}},"text":{"field":"s"}}}
   ]}
 ]},
 {"spacing": 16, "resolve": {"scale": {"fill": "independent", "stroke": "independent"}, "legend": {"fill": "independent", "stroke": "independent"}}, "hconcat": [
  {"width":127,"height":125,
   "title":{"text":"d","anchor":"start","frame":"bounds","fontSize":21,"baseline":"bottom","offset":-18,"dx":6},
   "layer":[
    {"data":{"values":[{}]},"mark":{"type":"rect","color":"#ececec"},"encoding":{"x":{"datum":0,"type":"quantitative","scale":{"domain":[-7.6,21.7],"nice":false,"zero":false},"title":"Time (min)","axis":{"values":[-5,0,5,10,15,20],"labelExpr":"''+datum.value","titlePadding":5,"labelPadding":4}},"x2":{"datum":21.7},"y":{"datum":0,"type":"quantitative","scale":{"domain":[0,800],"nice":false},"title":["Rearing activity","(count/5 min)"],"axis":{"values":[0,200,400,600,800],"format":"d","titleLineHeight":16,"titlePadding":4,"labelPadding":2}},"y2":{"datum":800}}},
    {"data":{"values":[{}]},"mark":{"type":"rule","color":"#000000","strokeWidth":1.5},"encoding":{"x":{"datum":0,"type":"quantitative","scale":{"domain":[-7.6,21.7],"nice":false,"zero":false},"title":"Time (min)","axis":{"values":[-5,0,5,10,15,20],"labelExpr":"''+datum.value","titlePadding":5,"labelPadding":4}},"y":{"datum":287,"type":"quantitative","scale":{"domain":[0,800],"nice":false},"title":["Rearing activity","(count/5 min)"],"axis":{"values":[0,200,400,600,800],"format":"d","titleLineHeight":16,"titlePadding":4,"labelPadding":2}},"y2":{"datum":194}}},
    {"data":{"values":[{}]},"mark":{"type":"point","shape":"M0,0L-0.55,-1.6L0.55,-1.6Z","filled":true,"color":"#000000","opacity":1,"size":100},"encoding":{"x":{"datum":0,"type":"quantitative","scale":{"domain":[-7.6,21.7],"nice":false,"zero":false},"title":"Time (min)","axis":{"values":[-5,0,5,10,15,20],"labelExpr":"''+datum.value","titlePadding":5,"labelPadding":4}},"y":{"datum":149,"type":"quantitative","scale":{"domain":[0,800],"nice":false},"title":["Rearing activity","(count/5 min)"],"axis":{"values":[0,200,400,600,800],"format":"d","titleLineHeight":16,"titlePadding":4,"labelPadding":2}}}},
    {"data":{"values":[{}]},"mark":{"type":"text","text":"Injection","fontStyle":"italic","fontSize":10,"color":"#222222","dx":-5},"encoding":{"x":{"datum":0,"type":"quantitative","scale":{"domain":[-7.6,21.7],"nice":false,"zero":false},"title":"Time (min)","axis":{"values":[-5,0,5,10,15,20],"labelExpr":"''+datum.value","titlePadding":5,"labelPadding":4}},"y":{"datum":340,"type":"quantitative","scale":{"domain":[0,800],"nice":false},"title":["Rearing activity","(count/5 min)"],"axis":{"values":[0,200,400,600,800],"format":"d","titleLineHeight":16,"titlePadding":4,"labelPadding":2}}}},
    {"data":{"name":"L"},"transform":[{"filter":"datum.p=='d'"}],"mark":{"type":"rule","color":"#8a8a8a"},"encoding":{"x":{"field":"t","type":"quantitative","scale":{"domain":[-7.6,21.7],"nice":false,"zero":false},"title":"Time (min)","axis":{"values":[-5,0,5,10,15,20],"labelExpr":"''+datum.value","titlePadding":5,"labelPadding":4}},"y":{"field":"lo","type":"quantitative","scale":{"domain":[0,800],"nice":false},"title":["Rearing activity","(count/5 min)"],"axis":{"values":[0,200,400,600,800],"format":"d","titleLineHeight":16,"titlePadding":4,"labelPadding":2}},"y2":{"field":"hi"}}},
    {"data":{"name":"L"},"transform":[{"filter":"datum.p=='d'"}],"mark":{"type":"tick","orient":"horizontal","size":6,"thickness":1,"color":"#8a8a8a"},"encoding":{"x":{"field":"t","type":"quantitative","scale":{"domain":[-7.6,21.7],"nice":false,"zero":false},"title":"Time (min)","axis":{"values":[-5,0,5,10,15,20],"labelExpr":"''+datum.value","titlePadding":5,"labelPadding":4}},"y":{"field":"hi","type":"quantitative","scale":{"domain":[0,800],"nice":false},"title":["Rearing activity","(count/5 min)"],"axis":{"values":[0,200,400,600,800],"format":"d","titleLineHeight":16,"titlePadding":4,"labelPadding":2}}}},
    {"data":{"name":"L"},"transform":[{"filter":"datum.p=='d'"}],"mark":{"type":"tick","orient":"horizontal","size":6,"thickness":1,"color":"#8a8a8a"},"encoding":{"x":{"field":"t","type":"quantitative","scale":{"domain":[-7.6,21.7],"nice":false,"zero":false},"title":"Time (min)","axis":{"values":[-5,0,5,10,15,20],"labelExpr":"''+datum.value","titlePadding":5,"labelPadding":4}},"y":{"field":"lo","type":"quantitative","scale":{"domain":[0,800],"nice":false},"title":["Rearing activity","(count/5 min)"],"axis":{"values":[0,200,400,600,800],"format":"d","titleLineHeight":16,"titlePadding":4,"labelPadding":2}}}},
    {"data":{"name":"L"},"transform":[{"filter":"datum.p=='d'"}],"mark":{"type":"line","color":"#8a8a8a","strokeWidth":1},"encoding":{"x":{"field":"t","type":"quantitative","scale":{"domain":[-7.6,21.7],"nice":false,"zero":false},"title":"Time (min)","axis":{"values":[-5,0,5,10,15,20],"labelExpr":"''+datum.value","titlePadding":5,"labelPadding":4}},"y":{"field":"v","type":"quantitative","scale":{"domain":[0,800],"nice":false},"title":["Rearing activity","(count/5 min)"],"axis":{"values":[0,200,400,600,800],"format":"d","titleLineHeight":16,"titlePadding":4,"labelPadding":2}},"detail":{"field":"g","type":"nominal"}}},
    {"data":{"name":"L"},"transform":[{"filter":"datum.p=='d'"}],"mark":{"type":"point","filled":true,"opacity":1,"size":50,"strokeWidth":1},"encoding":{"x":{"field":"t","type":"quantitative","scale":{"domain":[-7.6,21.7],"nice":false,"zero":false},"title":"Time (min)","axis":{"values":[-5,0,5,10,15,20],"labelExpr":"''+datum.value","titlePadding":5,"labelPadding":4}},"y":{"field":"v","type":"quantitative","scale":{"domain":[0,800],"nice":false},"title":["Rearing activity","(count/5 min)"],"axis":{"values":[0,200,400,600,800],"format":"d","titleLineHeight":16,"titlePadding":4,"labelPadding":2}},
      "fill":{"field":"g","type":"nominal","scale":{"domain":["Repeated saline","Repeated nicotine"],"range":["#ffffff","#0d1680"]},"legend":{"orient":"none","legendX":3,"legendY":-12,"title":null}},
      "stroke":{"field":"g","type":"nominal","scale":{"domain":["Repeated saline","Repeated nicotine"],"range":["#777777","#0d1680"]},"legend":{"orient":"none","legendX":3,"legendY":-12,"title":null}}}},
    {"data":{"name":"L"},"transform":[{"filter":"datum.p=='d'"}],"mark":{"type":"text","fontSize":19,"dy":6,"baseline":"alphabetic","color":"#444444"},"encoding":{"x":{"field":"t","type":"quantitative","scale":{"domain":[-7.6,21.7],"nice":false,"zero":false},"title":"Time (min)","axis":{"values":[-5,0,5,10,15,20],"labelExpr":"''+datum.value","titlePadding":5,"labelPadding":4}},"y":{"field":"hi","type":"quantitative","scale":{"domain":[0,800],"nice":false},"title":["Rearing activity","(count/5 min)"],"axis":{"values":[0,200,400,600,800],"format":"d","titleLineHeight":16,"titlePadding":4,"labelPadding":2}},"text":{"field":"s"}}}
   ]},
  {"width":87,"height":125,
   "title":{"text":"Repeated","fontSize":15,"offset":-18,"baseline":"top","anchor":"middle","frame":"group"},
   "data":{"name":"B"},"transform":[{"filter":"datum.p=='d'"}],
   "encoding":{"x":{"field":"per","type":"nominal","scale":{"paddingInner":0.3,"paddingOuter":0.15},"title":"Period","axis":{"labelAngle":0,"ticks":false,"labelPadding":5,"titlePadding":7}},"xOffset":{"field":"g","type":"nominal","scale":{"domain":["s","n"]}}},
   "layer":[
    {"mark":{"type":"bar","strokeWidth":1},"encoding":{"y":{"field":"v","type":"quantitative","scale":{"domain":[0,2000],"nice":false},"title":"% basal","axis":{"values":[0,500,1000,1500,2000],"format":"d","titlePadding":4,"labelPadding":2}},"fill":{"field":"g","type":"nominal","scale":{"domain":["s","n"],"range":["#ffffff","#0d1680"]},"legend":null},"stroke":{"field":"g","type":"nominal","scale":{"domain":["s","n"],"range":["#8a8a8a","#0d1680"]},"legend":null}}},
    {"mark":{"type":"rule","color":"#8a8a8a"},"encoding":{"y":{"field":"v","type":"quantitative","scale":{"domain":[0,2000],"nice":false},"title":"% basal","axis":{"values":[0,500,1000,1500,2000],"format":"d","titlePadding":4,"labelPadding":2}},"y2":{"field":"hi"}}},
    {"mark":{"type":"tick","orient":"horizontal","size":5,"thickness":1,"color":"#8a8a8a"},"encoding":{"y":{"field":"hi","type":"quantitative","scale":{"domain":[0,2000],"nice":false},"title":"% basal","axis":{"values":[0,500,1000,1500,2000],"format":"d","titlePadding":4,"labelPadding":2}}}},
    {"mark":{"type":"text","fontSize":19,"dy":6,"baseline":"alphabetic","color":"#444444"},"encoding":{"y":{"field":"hi","type":"quantitative","scale":{"domain":[0,2000],"nice":false},"title":"% basal","axis":{"values":[0,500,1000,1500,2000],"format":"d","titlePadding":4,"labelPadding":2}},"text":{"field":"s"}}}
   ]}
 ]}
]},
{"spacing": 17, "resolve": {"scale": {"fill": "independent", "stroke": "independent"}, "legend": {"fill": "independent", "stroke": "independent"}}, "hconcat": [
 {"spacing": 7, "resolve": {"scale": {"fill": "independent", "stroke": "independent"}, "legend": {"fill": "independent", "stroke": "independent"}}, "hconcat": [
  {"width":123,"height":125,
   "title":{"text":"e","anchor":"start","frame":"bounds","fontSize":21,"baseline":"bottom","offset":-18,"dx":6},
   "layer":[
    {"data":{"values":[{}]},"mark":{"type":"rect","color":"#ececec"},"encoding":{"x":{"datum":0,"type":"quantitative","scale":{"domain":[-7.6,21.7],"nice":false,"zero":false},"title":"Time (min)","axis":{"values":[-5,0,5,10,15,20],"labelExpr":"''+datum.value","titlePadding":5,"labelPadding":4}},"x2":{"datum":21.7},"y":{"datum":0,"type":"quantitative","scale":{"domain":[0,2500],"nice":false},"title":["Locomotor activity","(cm/5 min)"],"axis":{"values":[0,500,1000,1500,2000,2500],"format":"d","titleLineHeight":16,"titlePadding":4,"labelPadding":2}},"y2":{"datum":2500}}},
    {"data":{"name":"L"},"transform":[{"filter":"datum.p=='e'"}],"mark":{"type":"rule","color":"#8a8a8a"},"encoding":{"x":{"field":"t","type":"quantitative","scale":{"domain":[-7.6,21.7],"nice":false,"zero":false},"title":"Time (min)","axis":{"values":[-5,0,5,10,15,20],"labelExpr":"''+datum.value","titlePadding":5,"labelPadding":4}},"y":{"field":"lo","type":"quantitative","scale":{"domain":[0,2500],"nice":false},"title":["Locomotor activity","(cm/5 min)"],"axis":{"values":[0,500,1000,1500,2000,2500],"format":"d","titleLineHeight":16,"titlePadding":4,"labelPadding":2}},"y2":{"field":"hi"}}},
    {"data":{"name":"L"},"transform":[{"filter":"datum.p=='e'"}],"mark":{"type":"tick","orient":"horizontal","size":6,"thickness":1,"color":"#8a8a8a"},"encoding":{"x":{"field":"t","type":"quantitative","scale":{"domain":[-7.6,21.7],"nice":false,"zero":false},"title":"Time (min)","axis":{"values":[-5,0,5,10,15,20],"labelExpr":"''+datum.value","titlePadding":5,"labelPadding":4}},"y":{"field":"hi","type":"quantitative","scale":{"domain":[0,2500],"nice":false},"title":["Locomotor activity","(cm/5 min)"],"axis":{"values":[0,500,1000,1500,2000,2500],"format":"d","titleLineHeight":16,"titlePadding":4,"labelPadding":2}}}},
    {"data":{"name":"L"},"transform":[{"filter":"datum.p=='e'"}],"mark":{"type":"tick","orient":"horizontal","size":6,"thickness":1,"color":"#8a8a8a"},"encoding":{"x":{"field":"t","type":"quantitative","scale":{"domain":[-7.6,21.7],"nice":false,"zero":false},"title":"Time (min)","axis":{"values":[-5,0,5,10,15,20],"labelExpr":"''+datum.value","titlePadding":5,"labelPadding":4}},"y":{"field":"lo","type":"quantitative","scale":{"domain":[0,2500],"nice":false},"title":["Locomotor activity","(cm/5 min)"],"axis":{"values":[0,500,1000,1500,2000,2500],"format":"d","titleLineHeight":16,"titlePadding":4,"labelPadding":2}}}},
    {"data":{"name":"L"},"transform":[{"filter":"datum.p=='e'"}],"mark":{"type":"line","color":"#8a8a8a","strokeWidth":1},"encoding":{"x":{"field":"t","type":"quantitative","scale":{"domain":[-7.6,21.7],"nice":false,"zero":false},"title":"Time (min)","axis":{"values":[-5,0,5,10,15,20],"labelExpr":"''+datum.value","titlePadding":5,"labelPadding":4}},"y":{"field":"v","type":"quantitative","scale":{"domain":[0,2500],"nice":false},"title":["Locomotor activity","(cm/5 min)"],"axis":{"values":[0,500,1000,1500,2000,2500],"format":"d","titleLineHeight":16,"titlePadding":4,"labelPadding":2}},"detail":{"field":"g","type":"nominal"}}},
    {"data":{"name":"L"},"transform":[{"filter":"datum.p=='e'"}],"mark":{"type":"point","filled":true,"opacity":1,"size":50,"strokeWidth":1},"encoding":{"x":{"field":"t","type":"quantitative","scale":{"domain":[-7.6,21.7],"nice":false,"zero":false},"title":"Time (min)","axis":{"values":[-5,0,5,10,15,20],"labelExpr":"''+datum.value","titlePadding":5,"labelPadding":4}},"y":{"field":"v","type":"quantitative","scale":{"domain":[0,2500],"nice":false},"title":["Locomotor activity","(cm/5 min)"],"axis":{"values":[0,500,1000,1500,2000,2500],"format":"d","titleLineHeight":16,"titlePadding":4,"labelPadding":2}},
      "fill":{"field":"g","type":"nominal","scale":{"domain":["Saline WD 1","Nicotine WD 1"],"range":["#ffffff","#c8c8c8"]},"legend":{"orient":"none","legendX":3,"legendY":-12,"title":null}},
      "stroke":{"field":"g","type":"nominal","scale":{"domain":["Saline WD 1","Nicotine WD 1"],"range":["#777777","#8c8c8c"]},"legend":{"orient":"none","legendX":3,"legendY":-12,"title":null}}}}
   ]},
  {"width":90,"height":125,
   "title":{"text":"WD 1","fontSize":15,"offset":-18,"baseline":"top","anchor":"middle","frame":"group"},
   "data":{"name":"B"},"transform":[{"filter":"datum.p=='e'"}],
   "encoding":{"x":{"field":"per","type":"nominal","scale":{"paddingInner":0.3,"paddingOuter":0.15},"title":"Period","axis":{"labelAngle":0,"ticks":false,"labelPadding":5,"titlePadding":7}},"xOffset":{"field":"g","type":"nominal","scale":{"domain":["s","n"]}}},
   "layer":[
    {"mark":{"type":"bar","strokeWidth":1},"encoding":{"y":{"field":"v","type":"quantitative","scale":{"domain":[0,2000],"nice":false},"title":"% basal","axis":{"values":[0,500,1000,1500,2000],"format":"d","titlePadding":4,"labelPadding":2}},"fill":{"field":"g","type":"nominal","scale":{"domain":["s","n"],"range":["#ffffff","#c8c8c8"]},"legend":null},"stroke":{"field":"g","type":"nominal","scale":{"domain":["s","n"],"range":["#8a8a8a","#9a9a9a"]},"legend":null}}},
    {"mark":{"type":"rule","color":"#8a8a8a"},"encoding":{"y":{"field":"v","type":"quantitative","scale":{"domain":[0,2000],"nice":false},"title":"% basal","axis":{"values":[0,500,1000,1500,2000],"format":"d","titlePadding":4,"labelPadding":2}},"y2":{"field":"hi"}}},
    {"mark":{"type":"tick","orient":"horizontal","size":5,"thickness":1,"color":"#8a8a8a"},"encoding":{"y":{"field":"hi","type":"quantitative","scale":{"domain":[0,2000],"nice":false},"title":"% basal","axis":{"values":[0,500,1000,1500,2000],"format":"d","titlePadding":4,"labelPadding":2}}}}
   ]}
 ]},
 {"spacing": 16, "resolve": {"scale": {"fill": "independent", "stroke": "independent"}, "legend": {"fill": "independent", "stroke": "independent"}}, "hconcat": [
  {"width":127,"height":125,
   "title":{"text":"f","anchor":"start","frame":"bounds","fontSize":21,"baseline":"bottom","offset":-18,"dx":6},
   "layer":[
    {"data":{"values":[{}]},"mark":{"type":"rect","color":"#ececec"},"encoding":{"x":{"datum":0,"type":"quantitative","scale":{"domain":[-7.6,21.7],"nice":false,"zero":false},"title":"Time (min)","axis":{"values":[-5,0,5,10,15,20],"labelExpr":"''+datum.value","titlePadding":5,"labelPadding":4}},"x2":{"datum":21.7},"y":{"datum":0,"type":"quantitative","scale":{"domain":[0,800],"nice":false},"title":["Rearing activity","(count/5 min)"],"axis":{"values":[0,200,400,600,800],"format":"d","titleLineHeight":16,"titlePadding":4,"labelPadding":2}},"y2":{"datum":800}}},
    {"data":{"name":"L"},"transform":[{"filter":"datum.p=='f'"}],"mark":{"type":"rule","color":"#8a8a8a"},"encoding":{"x":{"field":"t","type":"quantitative","scale":{"domain":[-7.6,21.7],"nice":false,"zero":false},"title":"Time (min)","axis":{"values":[-5,0,5,10,15,20],"labelExpr":"''+datum.value","titlePadding":5,"labelPadding":4}},"y":{"field":"lo","type":"quantitative","scale":{"domain":[0,800],"nice":false},"title":["Rearing activity","(count/5 min)"],"axis":{"values":[0,200,400,600,800],"format":"d","titleLineHeight":16,"titlePadding":4,"labelPadding":2}},"y2":{"field":"hi"}}},
    {"data":{"name":"L"},"transform":[{"filter":"datum.p=='f'"}],"mark":{"type":"tick","orient":"horizontal","size":6,"thickness":1,"color":"#8a8a8a"},"encoding":{"x":{"field":"t","type":"quantitative","scale":{"domain":[-7.6,21.7],"nice":false,"zero":false},"title":"Time (min)","axis":{"values":[-5,0,5,10,15,20],"labelExpr":"''+datum.value","titlePadding":5,"labelPadding":4}},"y":{"field":"hi","type":"quantitative","scale":{"domain":[0,800],"nice":false},"title":["Rearing activity","(count/5 min)"],"axis":{"values":[0,200,400,600,800],"format":"d","titleLineHeight":16,"titlePadding":4,"labelPadding":2}}}},
    {"data":{"name":"L"},"transform":[{"filter":"datum.p=='f'"}],"mark":{"type":"tick","orient":"horizontal","size":6,"thickness":1,"color":"#8a8a8a"},"encoding":{"x":{"field":"t","type":"quantitative","scale":{"domain":[-7.6,21.7],"nice":false,"zero":false},"title":"Time (min)","axis":{"values":[-5,0,5,10,15,20],"labelExpr":"''+datum.value","titlePadding":5,"labelPadding":4}},"y":{"field":"lo","type":"quantitative","scale":{"domain":[0,800],"nice":false},"title":["Rearing activity","(count/5 min)"],"axis":{"values":[0,200,400,600,800],"format":"d","titleLineHeight":16,"titlePadding":4,"labelPadding":2}}}},
    {"data":{"name":"L"},"transform":[{"filter":"datum.p=='f'"}],"mark":{"type":"line","color":"#8a8a8a","strokeWidth":1},"encoding":{"x":{"field":"t","type":"quantitative","scale":{"domain":[-7.6,21.7],"nice":false,"zero":false},"title":"Time (min)","axis":{"values":[-5,0,5,10,15,20],"labelExpr":"''+datum.value","titlePadding":5,"labelPadding":4}},"y":{"field":"v","type":"quantitative","scale":{"domain":[0,800],"nice":false},"title":["Rearing activity","(count/5 min)"],"axis":{"values":[0,200,400,600,800],"format":"d","titleLineHeight":16,"titlePadding":4,"labelPadding":2}},"detail":{"field":"g","type":"nominal"}}},
    {"data":{"name":"L"},"transform":[{"filter":"datum.p=='f'"}],"mark":{"type":"point","filled":true,"opacity":1,"size":50,"strokeWidth":1},"encoding":{"x":{"field":"t","type":"quantitative","scale":{"domain":[-7.6,21.7],"nice":false,"zero":false},"title":"Time (min)","axis":{"values":[-5,0,5,10,15,20],"labelExpr":"''+datum.value","titlePadding":5,"labelPadding":4}},"y":{"field":"v","type":"quantitative","scale":{"domain":[0,800],"nice":false},"title":["Rearing activity","(count/5 min)"],"axis":{"values":[0,200,400,600,800],"format":"d","titleLineHeight":16,"titlePadding":4,"labelPadding":2}},
      "fill":{"field":"g","type":"nominal","scale":{"domain":["Saline WD 1","Nicotine WD 1"],"range":["#ffffff","#c8c8c8"]},"legend":{"orient":"none","legendX":3,"legendY":-12,"title":null}},
      "stroke":{"field":"g","type":"nominal","scale":{"domain":["Saline WD 1","Nicotine WD 1"],"range":["#777777","#8c8c8c"]},"legend":{"orient":"none","legendX":3,"legendY":-12,"title":null}}}}
   ]},
  {"width":87,"height":125,
   "title":{"text":"WD 1","fontSize":15,"offset":-18,"baseline":"top","anchor":"middle","frame":"group"},
   "data":{"name":"B"},"transform":[{"filter":"datum.p=='f'"}],
   "encoding":{"x":{"field":"per","type":"nominal","scale":{"paddingInner":0.3,"paddingOuter":0.15},"title":"Period","axis":{"labelAngle":0,"ticks":false,"labelPadding":5,"titlePadding":7}},"xOffset":{"field":"g","type":"nominal","scale":{"domain":["s","n"]}}},
   "layer":[
    {"mark":{"type":"bar","strokeWidth":1},"encoding":{"y":{"field":"v","type":"quantitative","scale":{"domain":[0,2000],"nice":false},"title":"% basal","axis":{"values":[0,500,1000,1500,2000],"format":"d","titlePadding":4,"labelPadding":2}},"fill":{"field":"g","type":"nominal","scale":{"domain":["s","n"],"range":["#ffffff","#c8c8c8"]},"legend":null},"stroke":{"field":"g","type":"nominal","scale":{"domain":["s","n"],"range":["#8a8a8a","#9a9a9a"]},"legend":null}}},
    {"mark":{"type":"rule","color":"#8a8a8a"},"encoding":{"y":{"field":"v","type":"quantitative","scale":{"domain":[0,2000],"nice":false},"title":"% basal","axis":{"values":[0,500,1000,1500,2000],"format":"d","titlePadding":4,"labelPadding":2}},"y2":{"field":"hi"}}},
    {"mark":{"type":"tick","orient":"horizontal","size":5,"thickness":1,"color":"#8a8a8a"},"encoding":{"y":{"field":"hi","type":"quantitative","scale":{"domain":[0,2000],"nice":false},"title":"% basal","axis":{"values":[0,500,1000,1500,2000],"format":"d","titlePadding":4,"labelPadding":2}}}}
   ]}
 ]}
]},
{"spacing": 17, "resolve": {"scale": {"fill": "independent", "stroke": "independent"}, "legend": {"fill": "independent", "stroke": "independent"}}, "hconcat": [
 {"spacing": 7, "resolve": {"scale": {"fill": "independent", "stroke": "independent"}, "legend": {"fill": "independent", "stroke": "independent"}}, "hconcat": [
  {"width":123,"height":125,
   "title":{"text":"g","anchor":"start","frame":"bounds","fontSize":21,"baseline":"bottom","offset":-18,"dx":6},
   "layer":[
    {"data":{"values":[{}]},"mark":{"type":"rect","color":"#ececec"},"encoding":{"x":{"datum":0,"type":"quantitative","scale":{"domain":[-7.6,21.7],"nice":false,"zero":false},"title":"Time (min)","axis":{"values":[-5,0,5,10,15,20],"labelExpr":"''+datum.value","titlePadding":5,"labelPadding":4}},"x2":{"datum":21.7},"y":{"datum":0,"type":"quantitative","scale":{"domain":[0,2500],"nice":false},"title":["Locomotor activity","(cm/5 min)"],"axis":{"values":[0,500,1000,1500,2000,2500],"format":"d","titleLineHeight":16,"titlePadding":4,"labelPadding":2}},"y2":{"datum":2500}}},
    {"data":{"name":"L"},"transform":[{"filter":"datum.p=='g'"}],"mark":{"type":"rule","color":"#8a8a8a"},"encoding":{"x":{"field":"t","type":"quantitative","scale":{"domain":[-7.6,21.7],"nice":false,"zero":false},"title":"Time (min)","axis":{"values":[-5,0,5,10,15,20],"labelExpr":"''+datum.value","titlePadding":5,"labelPadding":4}},"y":{"field":"lo","type":"quantitative","scale":{"domain":[0,2500],"nice":false},"title":["Locomotor activity","(cm/5 min)"],"axis":{"values":[0,500,1000,1500,2000,2500],"format":"d","titleLineHeight":16,"titlePadding":4,"labelPadding":2}},"y2":{"field":"hi"}}},
    {"data":{"name":"L"},"transform":[{"filter":"datum.p=='g'"}],"mark":{"type":"tick","orient":"horizontal","size":6,"thickness":1,"color":"#8a8a8a"},"encoding":{"x":{"field":"t","type":"quantitative","scale":{"domain":[-7.6,21.7],"nice":false,"zero":false},"title":"Time (min)","axis":{"values":[-5,0,5,10,15,20],"labelExpr":"''+datum.value","titlePadding":5,"labelPadding":4}},"y":{"field":"hi","type":"quantitative","scale":{"domain":[0,2500],"nice":false},"title":["Locomotor activity","(cm/5 min)"],"axis":{"values":[0,500,1000,1500,2000,2500],"format":"d","titleLineHeight":16,"titlePadding":4,"labelPadding":2}}}},
    {"data":{"name":"L"},"transform":[{"filter":"datum.p=='g'"}],"mark":{"type":"tick","orient":"horizontal","size":6,"thickness":1,"color":"#8a8a8a"},"encoding":{"x":{"field":"t","type":"quantitative","scale":{"domain":[-7.6,21.7],"nice":false,"zero":false},"title":"Time (min)","axis":{"values":[-5,0,5,10,15,20],"labelExpr":"''+datum.value","titlePadding":5,"labelPadding":4}},"y":{"field":"lo","type":"quantitative","scale":{"domain":[0,2500],"nice":false},"title":["Locomotor activity","(cm/5 min)"],"axis":{"values":[0,500,1000,1500,2000,2500],"format":"d","titleLineHeight":16,"titlePadding":4,"labelPadding":2}}}},
    {"data":{"name":"L"},"transform":[{"filter":"datum.p=='g'"}],"mark":{"type":"line","color":"#8a8a8a","strokeWidth":1},"encoding":{"x":{"field":"t","type":"quantitative","scale":{"domain":[-7.6,21.7],"nice":false,"zero":false},"title":"Time (min)","axis":{"values":[-5,0,5,10,15,20],"labelExpr":"''+datum.value","titlePadding":5,"labelPadding":4}},"y":{"field":"v","type":"quantitative","scale":{"domain":[0,2500],"nice":false},"title":["Locomotor activity","(cm/5 min)"],"axis":{"values":[0,500,1000,1500,2000,2500],"format":"d","titleLineHeight":16,"titlePadding":4,"labelPadding":2}},"detail":{"field":"g","type":"nominal"}}},
    {"data":{"name":"L"},"transform":[{"filter":"datum.p=='g'"}],"mark":{"type":"point","filled":true,"opacity":1,"size":50,"strokeWidth":1},"encoding":{"x":{"field":"t","type":"quantitative","scale":{"domain":[-7.6,21.7],"nice":false,"zero":false},"title":"Time (min)","axis":{"values":[-5,0,5,10,15,20],"labelExpr":"''+datum.value","titlePadding":5,"labelPadding":4}},"y":{"field":"v","type":"quantitative","scale":{"domain":[0,2500],"nice":false},"title":["Locomotor activity","(cm/5 min)"],"axis":{"values":[0,500,1000,1500,2000,2500],"format":"d","titleLineHeight":16,"titlePadding":4,"labelPadding":2}},
      "fill":{"field":"g","type":"nominal","scale":{"domain":["Saline WD 6","Nicotine WD 6"],"range":["#ffffff","#7a7a7a"]},"legend":{"orient":"none","legendX":3,"legendY":-12,"title":null}},
      "stroke":{"field":"g","type":"nominal","scale":{"domain":["Saline WD 6","Nicotine WD 6"],"range":["#777777","#666666"]},"legend":{"orient":"none","legendX":3,"legendY":-12,"title":null}}}}
   ]},
  {"width":90,"height":125,
   "title":{"text":"WD 6","fontSize":15,"offset":-18,"baseline":"top","anchor":"middle","frame":"group"},
   "data":{"name":"B"},"transform":[{"filter":"datum.p=='g'"}],
   "encoding":{"x":{"field":"per","type":"nominal","scale":{"paddingInner":0.3,"paddingOuter":0.15},"title":"Period","axis":{"labelAngle":0,"ticks":false,"labelPadding":5,"titlePadding":7}},"xOffset":{"field":"g","type":"nominal","scale":{"domain":["s","n"]}}},
   "layer":[
    {"mark":{"type":"bar","strokeWidth":1},"encoding":{"y":{"field":"v","type":"quantitative","scale":{"domain":[0,2000],"nice":false},"title":"% basal","axis":{"values":[0,500,1000,1500,2000],"format":"d","titlePadding":4,"labelPadding":2}},"fill":{"field":"g","type":"nominal","scale":{"domain":["s","n"],"range":["#ffffff","#7a7a7a"]},"legend":null},"stroke":{"field":"g","type":"nominal","scale":{"domain":["s","n"],"range":["#8a8a8a","#6a6a6a"]},"legend":null}}},
    {"mark":{"type":"rule","color":"#8a8a8a"},"encoding":{"y":{"field":"v","type":"quantitative","scale":{"domain":[0,2000],"nice":false},"title":"% basal","axis":{"values":[0,500,1000,1500,2000],"format":"d","titlePadding":4,"labelPadding":2}},"y2":{"field":"hi"}}},
    {"mark":{"type":"tick","orient":"horizontal","size":5,"thickness":1,"color":"#8a8a8a"},"encoding":{"y":{"field":"hi","type":"quantitative","scale":{"domain":[0,2000],"nice":false},"title":"% basal","axis":{"values":[0,500,1000,1500,2000],"format":"d","titlePadding":4,"labelPadding":2}}}}
   ]}
 ]},
 {"spacing": 16, "resolve": {"scale": {"fill": "independent", "stroke": "independent"}, "legend": {"fill": "independent", "stroke": "independent"}}, "hconcat": [
  {"width":127,"height":125,
   "title":{"text":"h","anchor":"start","frame":"bounds","fontSize":21,"baseline":"bottom","offset":-18,"dx":6},
   "layer":[
    {"data":{"values":[{}]},"mark":{"type":"rect","color":"#ececec"},"encoding":{"x":{"datum":0,"type":"quantitative","scale":{"domain":[-7.6,21.7],"nice":false,"zero":false},"title":"Time (min)","axis":{"values":[-5,0,5,10,15,20],"labelExpr":"''+datum.value","titlePadding":5,"labelPadding":4}},"x2":{"datum":21.7},"y":{"datum":0,"type":"quantitative","scale":{"domain":[0,800],"nice":false},"title":["Rearing activity","(count/5 min)"],"axis":{"values":[0,200,400,600,800],"format":"d","titleLineHeight":16,"titlePadding":4,"labelPadding":2}},"y2":{"datum":800}}},
    {"data":{"name":"L"},"transform":[{"filter":"datum.p=='h'"}],"mark":{"type":"rule","color":"#8a8a8a"},"encoding":{"x":{"field":"t","type":"quantitative","scale":{"domain":[-7.6,21.7],"nice":false,"zero":false},"title":"Time (min)","axis":{"values":[-5,0,5,10,15,20],"labelExpr":"''+datum.value","titlePadding":5,"labelPadding":4}},"y":{"field":"lo","type":"quantitative","scale":{"domain":[0,800],"nice":false},"title":["Rearing activity","(count/5 min)"],"axis":{"values":[0,200,400,600,800],"format":"d","titleLineHeight":16,"titlePadding":4,"labelPadding":2}},"y2":{"field":"hi"}}},
    {"data":{"name":"L"},"transform":[{"filter":"datum.p=='h'"}],"mark":{"type":"tick","orient":"horizontal","size":6,"thickness":1,"color":"#8a8a8a"},"encoding":{"x":{"field":"t","type":"quantitative","scale":{"domain":[-7.6,21.7],"nice":false,"zero":false},"title":"Time (min)","axis":{"values":[-5,0,5,10,15,20],"labelExpr":"''+datum.value","titlePadding":5,"labelPadding":4}},"y":{"field":"hi","type":"quantitative","scale":{"domain":[0,800],"nice":false},"title":["Rearing activity","(count/5 min)"],"axis":{"values":[0,200,400,600,800],"format":"d","titleLineHeight":16,"titlePadding":4,"labelPadding":2}}}},
    {"data":{"name":"L"},"transform":[{"filter":"datum.p=='h'"}],"mark":{"type":"tick","orient":"horizontal","size":6,"thickness":1,"color":"#8a8a8a"},"encoding":{"x":{"field":"t","type":"quantitative","scale":{"domain":[-7.6,21.7],"nice":false,"zero":false},"title":"Time (min)","axis":{"values":[-5,0,5,10,15,20],"labelExpr":"''+datum.value","titlePadding":5,"labelPadding":4}},"y":{"field":"lo","type":"quantitative","scale":{"domain":[0,800],"nice":false},"title":["Rearing activity","(count/5 min)"],"axis":{"values":[0,200,400,600,800],"format":"d","titleLineHeight":16,"titlePadding":4,"labelPadding":2}}}},
    {"data":{"name":"L"},"transform":[{"filter":"datum.p=='h'"}],"mark":{"type":"line","color":"#8a8a8a","strokeWidth":1},"encoding":{"x":{"field":"t","type":"quantitative","scale":{"domain":[-7.6,21.7],"nice":false,"zero":false},"title":"Time (min)","axis":{"values":[-5,0,5,10,15,20],"labelExpr":"''+datum.value","titlePadding":5,"labelPadding":4}},"y":{"field":"v","type":"quantitative","scale":{"domain":[0,800],"nice":false},"title":["Rearing activity","(count/5 min)"],"axis":{"values":[0,200,400,600,800],"format":"d","titleLineHeight":16,"titlePadding":4,"labelPadding":2}},"detail":{"field":"g","type":"nominal"}}},
    {"data":{"name":"L"},"transform":[{"filter":"datum.p=='h'"}],"mark":{"type":"point","filled":true,"opacity":1,"size":50,"strokeWidth":1},"encoding":{"x":{"field":"t","type":"quantitative","scale":{"domain":[-7.6,21.7],"nice":false,"zero":false},"title":"Time (min)","axis":{"values":[-5,0,5,10,15,20],"labelExpr":"''+datum.value","titlePadding":5,"labelPadding":4}},"y":{"field":"v","type":"quantitative","scale":{"domain":[0,800],"nice":false},"title":["Rearing activity","(count/5 min)"],"axis":{"values":[0,200,400,600,800],"format":"d","titleLineHeight":16,"titlePadding":4,"labelPadding":2}},
      "fill":{"field":"g","type":"nominal","scale":{"domain":["Saline WD 6","Nicotine WD 6"],"range":["#ffffff","#7a7a7a"]},"legend":{"orient":"none","legendX":3,"legendY":-12,"title":null}},
      "stroke":{"field":"g","type":"nominal","scale":{"domain":["Saline WD 6","Nicotine WD 6"],"range":["#777777","#666666"]},"legend":{"orient":"none","legendX":3,"legendY":-12,"title":null}}}}
   ]},
  {"width":87,"height":125,
   "title":{"text":"WD 6","fontSize":15,"offset":-18,"baseline":"top","anchor":"middle","frame":"group"},
   "data":{"name":"B"},"transform":[{"filter":"datum.p=='h'"}],
   "encoding":{"x":{"field":"per","type":"nominal","scale":{"paddingInner":0.3,"paddingOuter":0.15},"title":"Period","axis":{"labelAngle":0,"ticks":false,"labelPadding":5,"titlePadding":7}},"xOffset":{"field":"g","type":"nominal","scale":{"domain":["s","n"]}}},
   "layer":[
    {"mark":{"type":"bar","strokeWidth":1},"encoding":{"y":{"field":"v","type":"quantitative","scale":{"domain":[0,2000],"nice":false},"title":"% basal","axis":{"values":[0,500,1000,1500,2000],"format":"d","titlePadding":4,"labelPadding":2}},"fill":{"field":"g","type":"nominal","scale":{"domain":["s","n"],"range":["#ffffff","#7a7a7a"]},"legend":null},"stroke":{"field":"g","type":"nominal","scale":{"domain":["s","n"],"range":["#8a8a8a","#6a6a6a"]},"legend":null}}},
    {"mark":{"type":"rule","color":"#8a8a8a"},"encoding":{"y":{"field":"v","type":"quantitative","scale":{"domain":[0,2000],"nice":false},"title":"% basal","axis":{"values":[0,500,1000,1500,2000],"format":"d","titlePadding":4,"labelPadding":2}},"y2":{"field":"hi"}}},
    {"mark":{"type":"tick","orient":"horizontal","size":5,"thickness":1,"color":"#8a8a8a"},"encoding":{"y":{"field":"hi","type":"quantitative","scale":{"domain":[0,2000],"nice":false},"title":"% basal","axis":{"values":[0,500,1000,1500,2000],"format":"d","titlePadding":4,"labelPadding":2}}}}
   ]}
 ]}
]},
{"spacing": 17, "resolve": {"scale": {"fill": "independent", "stroke": "independent"}, "legend": {"fill": "independent", "stroke": "independent"}}, "hconcat": [
 {"spacing": 7, "resolve": {"scale": {"fill": "independent", "stroke": "independent"}, "legend": {"fill": "independent", "stroke": "independent"}}, "hconcat": [
  {"width":123,"height":125,
   "title":{"text":"i","anchor":"start","frame":"bounds","fontSize":21,"baseline":"bottom","offset":-18,"dx":6},
   "layer":[
    {"data":{"values":[{}]},"mark":{"type":"rect","color":"#ececec"},"encoding":{"x":{"datum":0,"type":"quantitative","scale":{"domain":[-7.6,21.7],"nice":false,"zero":false},"title":"Time (min)","axis":{"values":[-5,0,5,10,15,20],"labelExpr":"''+datum.value","titlePadding":5,"labelPadding":4}},"x2":{"datum":21.7},"y":{"datum":0,"type":"quantitative","scale":{"domain":[0,2500],"nice":false},"title":["Locomotor activity","(cm/5 min)"],"axis":{"values":[0,500,1000,1500,2000,2500],"format":"d","titleLineHeight":16,"titlePadding":4,"labelPadding":2}},"y2":{"datum":2500}}},
    {"data":{"values":[{}]},"mark":{"type":"rule","color":"#000000","strokeWidth":1.5},"encoding":{"x":{"datum":0,"type":"quantitative","scale":{"domain":[-7.6,21.7],"nice":false,"zero":false},"title":"Time (min)","axis":{"values":[-5,0,5,10,15,20],"labelExpr":"''+datum.value","titlePadding":5,"labelPadding":4}},"y":{"datum":1180,"type":"quantitative","scale":{"domain":[0,2500],"nice":false},"title":["Locomotor activity","(cm/5 min)"],"axis":{"values":[0,500,1000,1500,2000,2500],"format":"d","titleLineHeight":16,"titlePadding":4,"labelPadding":2}},"y2":{"datum":863}}},
    {"data":{"values":[{}]},"mark":{"type":"point","shape":"M0,0L-0.55,-1.6L0.55,-1.6Z","filled":true,"color":"#000000","opacity":1,"size":100},"encoding":{"x":{"datum":0,"type":"quantitative","scale":{"domain":[-7.6,21.7],"nice":false,"zero":false},"title":"Time (min)","axis":{"values":[-5,0,5,10,15,20],"labelExpr":"''+datum.value","titlePadding":5,"labelPadding":4}},"y":{"datum":713,"type":"quantitative","scale":{"domain":[0,2500],"nice":false},"title":["Locomotor activity","(cm/5 min)"],"axis":{"values":[0,500,1000,1500,2000,2500],"format":"d","titleLineHeight":16,"titlePadding":4,"labelPadding":2}}}},
    {"data":{"values":[{}]},"mark":{"type":"text","text":"Injection","fontStyle":"italic","fontSize":10,"color":"#222222","dx":-6},"encoding":{"x":{"datum":0,"type":"quantitative","scale":{"domain":[-7.6,21.7],"nice":false,"zero":false},"title":"Time (min)","axis":{"values":[-5,0,5,10,15,20],"labelExpr":"''+datum.value","titlePadding":5,"labelPadding":4}},"y":{"datum":1313,"type":"quantitative","scale":{"domain":[0,2500],"nice":false},"title":["Locomotor activity","(cm/5 min)"],"axis":{"values":[0,500,1000,1500,2000,2500],"format":"d","titleLineHeight":16,"titlePadding":4,"labelPadding":2}}}},
    {"data":{"name":"L"},"transform":[{"filter":"datum.p=='i'"}],"mark":{"type":"rule","color":"#8a8a8a"},"encoding":{"x":{"field":"t","type":"quantitative","scale":{"domain":[-7.6,21.7],"nice":false,"zero":false},"title":"Time (min)","axis":{"values":[-5,0,5,10,15,20],"labelExpr":"''+datum.value","titlePadding":5,"labelPadding":4}},"y":{"field":"lo","type":"quantitative","scale":{"domain":[0,2500],"nice":false},"title":["Locomotor activity","(cm/5 min)"],"axis":{"values":[0,500,1000,1500,2000,2500],"format":"d","titleLineHeight":16,"titlePadding":4,"labelPadding":2}},"y2":{"field":"hi"}}},
    {"data":{"name":"L"},"transform":[{"filter":"datum.p=='i'"}],"mark":{"type":"tick","orient":"horizontal","size":6,"thickness":1,"color":"#8a8a8a"},"encoding":{"x":{"field":"t","type":"quantitative","scale":{"domain":[-7.6,21.7],"nice":false,"zero":false},"title":"Time (min)","axis":{"values":[-5,0,5,10,15,20],"labelExpr":"''+datum.value","titlePadding":5,"labelPadding":4}},"y":{"field":"hi","type":"quantitative","scale":{"domain":[0,2500],"nice":false},"title":["Locomotor activity","(cm/5 min)"],"axis":{"values":[0,500,1000,1500,2000,2500],"format":"d","titleLineHeight":16,"titlePadding":4,"labelPadding":2}}}},
    {"data":{"name":"L"},"transform":[{"filter":"datum.p=='i'"}],"mark":{"type":"tick","orient":"horizontal","size":6,"thickness":1,"color":"#8a8a8a"},"encoding":{"x":{"field":"t","type":"quantitative","scale":{"domain":[-7.6,21.7],"nice":false,"zero":false},"title":"Time (min)","axis":{"values":[-5,0,5,10,15,20],"labelExpr":"''+datum.value","titlePadding":5,"labelPadding":4}},"y":{"field":"lo","type":"quantitative","scale":{"domain":[0,2500],"nice":false},"title":["Locomotor activity","(cm/5 min)"],"axis":{"values":[0,500,1000,1500,2000,2500],"format":"d","titleLineHeight":16,"titlePadding":4,"labelPadding":2}}}},
    {"data":{"name":"L"},"transform":[{"filter":"datum.p=='i'"}],"mark":{"type":"line","color":"#8a8a8a","strokeWidth":1},"encoding":{"x":{"field":"t","type":"quantitative","scale":{"domain":[-7.6,21.7],"nice":false,"zero":false},"title":"Time (min)","axis":{"values":[-5,0,5,10,15,20],"labelExpr":"''+datum.value","titlePadding":5,"labelPadding":4}},"y":{"field":"v","type":"quantitative","scale":{"domain":[0,2500],"nice":false},"title":["Locomotor activity","(cm/5 min)"],"axis":{"values":[0,500,1000,1500,2000,2500],"format":"d","titleLineHeight":16,"titlePadding":4,"labelPadding":2}},"detail":{"field":"g","type":"nominal"}}},
    {"data":{"name":"L"},"transform":[{"filter":"datum.p=='i'"}],"mark":{"type":"point","filled":true,"opacity":1,"size":50,"strokeWidth":1},"encoding":{"x":{"field":"t","type":"quantitative","scale":{"domain":[-7.6,21.7],"nice":false,"zero":false},"title":"Time (min)","axis":{"values":[-5,0,5,10,15,20],"labelExpr":"''+datum.value","titlePadding":5,"labelPadding":4}},"y":{"field":"v","type":"quantitative","scale":{"domain":[0,2500],"nice":false},"title":["Locomotor activity","(cm/5 min)"],"axis":{"values":[0,500,1000,1500,2000,2500],"format":"d","titleLineHeight":16,"titlePadding":4,"labelPadding":2}},
      "fill":{"field":"g","type":"nominal","scale":{"domain":["Saline challenge","Nicotine challenge"],"range":["#ffffff","#9e0b0b"]},"legend":{"orient":"none","legendX":3,"legendY":-12,"title":null}},
      "stroke":{"field":"g","type":"nominal","scale":{"domain":["Saline challenge","Nicotine challenge"],"range":["#777777","#9e0b0b"]},"legend":{"orient":"none","legendX":3,"legendY":-12,"title":null}}}},
    {"data":{"name":"L"},"transform":[{"filter":"datum.p=='i'"}],"mark":{"type":"text","fontSize":19,"dy":6,"baseline":"alphabetic","color":"#444444"},"encoding":{"x":{"field":"t","type":"quantitative","scale":{"domain":[-7.6,21.7],"nice":false,"zero":false},"title":"Time (min)","axis":{"values":[-5,0,5,10,15,20],"labelExpr":"''+datum.value","titlePadding":5,"labelPadding":4}},"y":{"field":"hi","type":"quantitative","scale":{"domain":[0,2500],"nice":false},"title":["Locomotor activity","(cm/5 min)"],"axis":{"values":[0,500,1000,1500,2000,2500],"format":"d","titleLineHeight":16,"titlePadding":4,"labelPadding":2}},"text":{"field":"s"}}}
   ]},
  {"width":90,"height":125,
   "title":{"text":"Challenge","fontSize":15,"offset":-18,"baseline":"top","anchor":"middle","frame":"group"},
   "data":{"name":"B"},"transform":[{"filter":"datum.p=='i'"}],
   "encoding":{"x":{"field":"per","type":"nominal","scale":{"paddingInner":0.3,"paddingOuter":0.15},"title":"Period","axis":{"labelAngle":0,"ticks":false,"labelPadding":5,"titlePadding":7}},"xOffset":{"field":"g","type":"nominal","scale":{"domain":["s","n"]}}},
   "layer":[
    {"mark":{"type":"bar","strokeWidth":1},"encoding":{"y":{"field":"v","type":"quantitative","scale":{"domain":[0,2000],"nice":false},"title":"% basal","axis":{"values":[0,500,1000,1500,2000],"format":"d","titlePadding":4,"labelPadding":2}},"fill":{"field":"g","type":"nominal","scale":{"domain":["s","n"],"range":["#ffffff","#9e0b0b"]},"legend":null},"stroke":{"field":"g","type":"nominal","scale":{"domain":["s","n"],"range":["#8a8a8a","#9e0b0b"]},"legend":null}}},
    {"mark":{"type":"rule","color":"#8a8a8a"},"encoding":{"y":{"field":"v","type":"quantitative","scale":{"domain":[0,2000],"nice":false},"title":"% basal","axis":{"values":[0,500,1000,1500,2000],"format":"d","titlePadding":4,"labelPadding":2}},"y2":{"field":"hi"}}},
    {"mark":{"type":"tick","orient":"horizontal","size":5,"thickness":1,"color":"#8a8a8a"},"encoding":{"y":{"field":"hi","type":"quantitative","scale":{"domain":[0,2000],"nice":false},"title":"% basal","axis":{"values":[0,500,1000,1500,2000],"format":"d","titlePadding":4,"labelPadding":2}}}},
    {"mark":{"type":"text","fontSize":19,"dy":6,"baseline":"alphabetic","color":"#444444"},"encoding":{"y":{"field":"hi","type":"quantitative","scale":{"domain":[0,2000],"nice":false},"title":"% basal","axis":{"values":[0,500,1000,1500,2000],"format":"d","titlePadding":4,"labelPadding":2}},"text":{"field":"s"}}}
   ]}
 ]},
 {"spacing": 16, "resolve": {"scale": {"fill": "independent", "stroke": "independent"}, "legend": {"fill": "independent", "stroke": "independent"}}, "hconcat": [
  {"width":127,"height":125,
   "title":{"text":"j","anchor":"start","frame":"bounds","fontSize":21,"baseline":"bottom","offset":-18,"dx":6},
   "layer":[
    {"data":{"values":[{}]},"mark":{"type":"rect","color":"#ececec"},"encoding":{"x":{"datum":0,"type":"quantitative","scale":{"domain":[-7.6,21.7],"nice":false,"zero":false},"title":"Time (min)","axis":{"values":[-5,0,5,10,15,20],"labelExpr":"''+datum.value","titlePadding":5,"labelPadding":4}},"x2":{"datum":21.7},"y":{"datum":0,"type":"quantitative","scale":{"domain":[0,800],"nice":false},"title":["Rearing activity","(count/5 min)"],"axis":{"values":[0,200,400,600,800],"format":"d","titleLineHeight":16,"titlePadding":4,"labelPadding":2}},"y2":{"datum":800}}},
    {"data":{"values":[{}]},"mark":{"type":"rule","color":"#000000","strokeWidth":1.5},"encoding":{"x":{"datum":0,"type":"quantitative","scale":{"domain":[-7.6,21.7],"nice":false,"zero":false},"title":"Time (min)","axis":{"values":[-5,0,5,10,15,20],"labelExpr":"''+datum.value","titlePadding":5,"labelPadding":4}},"y":{"datum":382,"type":"quantitative","scale":{"domain":[0,800],"nice":false},"title":["Rearing activity","(count/5 min)"],"axis":{"values":[0,200,400,600,800],"format":"d","titleLineHeight":16,"titlePadding":4,"labelPadding":2}},"y2":{"datum":289}}},
    {"data":{"values":[{}]},"mark":{"type":"point","shape":"M0,0L-0.55,-1.6L0.55,-1.6Z","filled":true,"color":"#000000","opacity":1,"size":100},"encoding":{"x":{"datum":0,"type":"quantitative","scale":{"domain":[-7.6,21.7],"nice":false,"zero":false},"title":"Time (min)","axis":{"values":[-5,0,5,10,15,20],"labelExpr":"''+datum.value","titlePadding":5,"labelPadding":4}},"y":{"datum":244,"type":"quantitative","scale":{"domain":[0,800],"nice":false},"title":["Rearing activity","(count/5 min)"],"axis":{"values":[0,200,400,600,800],"format":"d","titleLineHeight":16,"titlePadding":4,"labelPadding":2}}}},
    {"data":{"values":[{}]},"mark":{"type":"text","text":"Injection","fontStyle":"italic","fontSize":10,"color":"#222222","dx":-5},"encoding":{"x":{"datum":0,"type":"quantitative","scale":{"domain":[-7.6,21.7],"nice":false,"zero":false},"title":"Time (min)","axis":{"values":[-5,0,5,10,15,20],"labelExpr":"''+datum.value","titlePadding":5,"labelPadding":4}},"y":{"datum":425,"type":"quantitative","scale":{"domain":[0,800],"nice":false},"title":["Rearing activity","(count/5 min)"],"axis":{"values":[0,200,400,600,800],"format":"d","titleLineHeight":16,"titlePadding":4,"labelPadding":2}}}},
    {"data":{"name":"L"},"transform":[{"filter":"datum.p=='j'"}],"mark":{"type":"rule","color":"#8a8a8a"},"encoding":{"x":{"field":"t","type":"quantitative","scale":{"domain":[-7.6,21.7],"nice":false,"zero":false},"title":"Time (min)","axis":{"values":[-5,0,5,10,15,20],"labelExpr":"''+datum.value","titlePadding":5,"labelPadding":4}},"y":{"field":"lo","type":"quantitative","scale":{"domain":[0,800],"nice":false},"title":["Rearing activity","(count/5 min)"],"axis":{"values":[0,200,400,600,800],"format":"d","titleLineHeight":16,"titlePadding":4,"labelPadding":2}},"y2":{"field":"hi"}}},
    {"data":{"name":"L"},"transform":[{"filter":"datum.p=='j'"}],"mark":{"type":"tick","orient":"horizontal","size":6,"thickness":1,"color":"#8a8a8a"},"encoding":{"x":{"field":"t","type":"quantitative","scale":{"domain":[-7.6,21.7],"nice":false,"zero":false},"title":"Time (min)","axis":{"values":[-5,0,5,10,15,20],"labelExpr":"''+datum.value","titlePadding":5,"labelPadding":4}},"y":{"field":"hi","type":"quantitative","scale":{"domain":[0,800],"nice":false},"title":["Rearing activity","(count/5 min)"],"axis":{"values":[0,200,400,600,800],"format":"d","titleLineHeight":16,"titlePadding":4,"labelPadding":2}}}},
    {"data":{"name":"L"},"transform":[{"filter":"datum.p=='j'"}],"mark":{"type":"tick","orient":"horizontal","size":6,"thickness":1,"color":"#8a8a8a"},"encoding":{"x":{"field":"t","type":"quantitative","scale":{"domain":[-7.6,21.7],"nice":false,"zero":false},"title":"Time (min)","axis":{"values":[-5,0,5,10,15,20],"labelExpr":"''+datum.value","titlePadding":5,"labelPadding":4}},"y":{"field":"lo","type":"quantitative","scale":{"domain":[0,800],"nice":false},"title":["Rearing activity","(count/5 min)"],"axis":{"values":[0,200,400,600,800],"format":"d","titleLineHeight":16,"titlePadding":4,"labelPadding":2}}}},
    {"data":{"name":"L"},"transform":[{"filter":"datum.p=='j'"}],"mark":{"type":"line","color":"#8a8a8a","strokeWidth":1},"encoding":{"x":{"field":"t","type":"quantitative","scale":{"domain":[-7.6,21.7],"nice":false,"zero":false},"title":"Time (min)","axis":{"values":[-5,0,5,10,15,20],"labelExpr":"''+datum.value","titlePadding":5,"labelPadding":4}},"y":{"field":"v","type":"quantitative","scale":{"domain":[0,800],"nice":false},"title":["Rearing activity","(count/5 min)"],"axis":{"values":[0,200,400,600,800],"format":"d","titleLineHeight":16,"titlePadding":4,"labelPadding":2}},"detail":{"field":"g","type":"nominal"}}},
    {"data":{"name":"L"},"transform":[{"filter":"datum.p=='j'"}],"mark":{"type":"point","filled":true,"opacity":1,"size":50,"strokeWidth":1},"encoding":{"x":{"field":"t","type":"quantitative","scale":{"domain":[-7.6,21.7],"nice":false,"zero":false},"title":"Time (min)","axis":{"values":[-5,0,5,10,15,20],"labelExpr":"''+datum.value","titlePadding":5,"labelPadding":4}},"y":{"field":"v","type":"quantitative","scale":{"domain":[0,800],"nice":false},"title":["Rearing activity","(count/5 min)"],"axis":{"values":[0,200,400,600,800],"format":"d","titleLineHeight":16,"titlePadding":4,"labelPadding":2}},
      "fill":{"field":"g","type":"nominal","scale":{"domain":["Saline challenge","Nicotine challenge"],"range":["#ffffff","#9e0b0b"]},"legend":{"orient":"none","legendX":3,"legendY":-12,"title":null}},
      "stroke":{"field":"g","type":"nominal","scale":{"domain":["Saline challenge","Nicotine challenge"],"range":["#777777","#9e0b0b"]},"legend":{"orient":"none","legendX":3,"legendY":-12,"title":null}}}},
    {"data":{"name":"L"},"transform":[{"filter":"datum.p=='j'"}],"mark":{"type":"text","fontSize":19,"dy":7,"baseline":"alphabetic","color":"#444444"},"encoding":{"x":{"field":"t","type":"quantitative","scale":{"domain":[-7.6,21.7],"nice":false,"zero":false},"title":"Time (min)","axis":{"values":[-5,0,5,10,15,20],"labelExpr":"''+datum.value","titlePadding":5,"labelPadding":4}},"y":{"field":"hi","type":"quantitative","scale":{"domain":[0,800],"nice":false},"title":["Rearing activity","(count/5 min)"],"axis":{"values":[0,200,400,600,800],"format":"d","titleLineHeight":16,"titlePadding":4,"labelPadding":2}},"text":{"field":"s"}}}
   ]},
  {"width":87,"height":125,
   "title":{"text":"Challenge","fontSize":15,"offset":-18,"baseline":"top","anchor":"middle","frame":"group"},
   "data":{"name":"B"},"transform":[{"filter":"datum.p=='j'"}],
   "encoding":{"x":{"field":"per","type":"nominal","scale":{"paddingInner":0.3,"paddingOuter":0.15},"title":"Period","axis":{"labelAngle":0,"ticks":false,"labelPadding":5,"titlePadding":7}},"xOffset":{"field":"g","type":"nominal","scale":{"domain":["s","n"]}}},
   "layer":[
    {"mark":{"type":"bar","strokeWidth":1},"encoding":{"y":{"field":"v","type":"quantitative","scale":{"domain":[0,2000],"nice":false},"title":"% basal","axis":{"values":[0,500,1000,1500,2000],"format":"d","titlePadding":4,"labelPadding":2}},"fill":{"field":"g","type":"nominal","scale":{"domain":["s","n"],"range":["#ffffff","#9e0b0b"]},"legend":null},"stroke":{"field":"g","type":"nominal","scale":{"domain":["s","n"],"range":["#8a8a8a","#9e0b0b"]},"legend":null}}},
    {"mark":{"type":"rule","color":"#8a8a8a"},"encoding":{"y":{"field":"v","type":"quantitative","scale":{"domain":[0,2000],"nice":false},"title":"% basal","axis":{"values":[0,500,1000,1500,2000],"format":"d","titlePadding":4,"labelPadding":2}},"y2":{"field":"hi"}}},
    {"mark":{"type":"tick","orient":"horizontal","size":5,"thickness":1,"color":"#8a8a8a"},"encoding":{"y":{"field":"hi","type":"quantitative","scale":{"domain":[0,2000],"nice":false},"title":"% basal","axis":{"values":[0,500,1000,1500,2000],"format":"d","titlePadding":4,"labelPadding":2}}}},
    {"mark":{"type":"text","fontSize":19,"dy":6,"baseline":"alphabetic","color":"#444444"},"encoding":{"y":{"field":"hi","type":"quantitative","scale":{"domain":[0,2000],"nice":false},"title":"% basal","axis":{"values":[0,500,1000,1500,2000],"format":"d","titlePadding":4,"labelPadding":2}},"text":{"field":"s"}}}
   ]}
 ]}
]}
]
}
